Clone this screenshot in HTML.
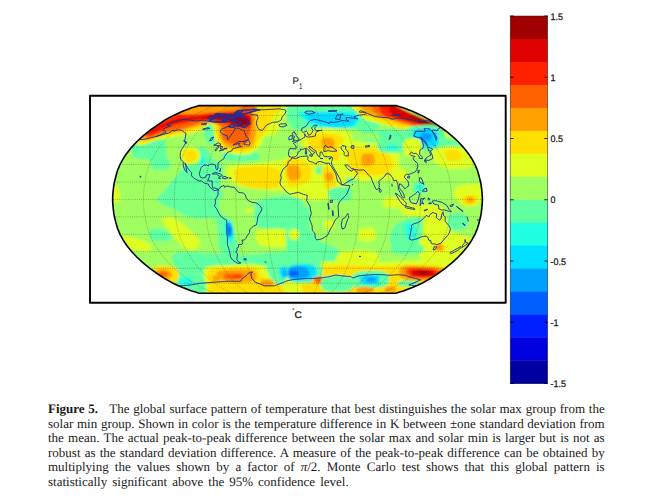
<!DOCTYPE html>
<html><head><meta charset="utf-8"><style>
html,body{margin:0;padding:0;background:#fff;width:657px;height:501px;overflow:hidden;position:relative}
.cap{position:absolute;left:48px;top:402.2px;width:556.7px;font-family:"Liberation Serif",serif;font-size:13px;line-height:14.5px;color:#1a1a1a;text-rendering:geometricPrecision}
.cap p{margin:0}
.j{text-align:justify;text-align-last:justify}
.l{word-spacing:1.8px}
</style></head><body>
<svg width="657" height="395" viewBox="0 0 657 395" style="position:absolute;left:0;top:0;text-rendering:geometricPrecision">
<defs><clipPath id="mc"><path d="M395.9 105.6L399.6 106.7L403.3 107.8L407.8 109.6L412.4 111.3L417.2 113.4L422 115.6L426.2 117.9L430.4 120.3L434.2 122.8L438 125.3L441.6 127.9L445.2 130.5L448.5 133.2L451.9 135.9L454.9 138.7L458 141.5L460.6 144.3L463.2 147.1L465.6 150L467.9 152.9L469.9 155.8L471.8 158.7L473.4 161.6L475 164.5L476.2 167.4L477.4 170.3L478.3 173.2L479.1 176.1L479.8 179L480.6 182L481.1 184.9L481.5 187.8L481.8 190.7L482.1 193.6L482.3 196.5L482.4 199.4L482.3 202.3L482.1 205.2L481.8 208.1L481.5 211L481.1 213.9L480.6 216.8L479.8 219.8L479.1 222.7L478.3 225.6L477.4 228.5L476.2 231.4L475 234.3L473.4 237.2L471.8 240.1L469.9 243L467.9 245.9L465.6 248.8L463.2 251.7L460.6 254.5L458 257.3L454.9 260.1L451.9 262.9L448.5 265.6L445.2 268.3L441.6 270.9L438 273.5L434.2 276L430.4 278.5L426.2 280.9L422 283.2L417.2 285.4L412.4 287.5L407.8 289.2L403.3 291L399.6 292.1L395.9 293.2L199.1 293.2L195.4 292.1L191.7 291L187.2 289.2L182.6 287.5L177.8 285.4L173 283.2L168.8 280.9L164.6 278.5L160.8 276L157 273.5L153.4 270.9L149.8 268.3L146.5 265.6L143.1 262.9L140.1 260.1L137 257.3L134.4 254.5L131.8 251.7L129.4 248.8L127.1 245.9L125.1 243L123.2 240.1L121.6 237.2L120 234.3L118.8 231.4L117.6 228.5L116.7 225.6L115.9 222.7L115.2 219.8L114.4 216.8L113.9 213.9L113.5 211L113.2 208.1L112.9 205.2L112.7 202.3L112.6 199.4L112.7 196.5L112.9 193.6L113.2 190.7L113.5 187.8L113.9 184.9L114.4 182L115.2 179L115.9 176.1L116.7 173.2L117.6 170.3L118.8 167.4L120 164.5L121.6 161.6L123.2 158.7L125.1 155.8L127.1 152.9L129.4 150L131.8 147.1L134.4 144.3L137 141.5L140.1 138.7L143.1 135.9L146.5 133.2L149.8 130.5L153.4 127.9L157 125.3L160.8 122.8L164.6 120.3L168.8 117.9L173 115.6L177.8 113.4L182.6 111.3L187.2 109.6L191.7 107.8L195.4 106.7L199.1 105.6Z"/></clipPath><filter id="soft" x="-5%" y="-5%" width="110%" height="110%"><feGaussianBlur stdDeviation="1"/></filter></defs>
<rect x="90" y="95.8" width="415.7" height="207" fill="none" stroke="#000" stroke-width="1.9" stroke-linejoin="round"/>
<g clip-path="url(#mc)"><g filter="url(#soft)">
<rect x="100" y="100" width="400" height="200" fill="#a0ff60"/>
<path fill="#60ffa0" d="M133.0 141.5C135.7 138.7 144.7 140.0 150.0 140.0C155.3 140.0 162.3 138.8 165.0 141.5C167.7 144.2 165.2 152.8 166.0 156.0C166.8 159.2 169.7 158.8 170.0 161.0C170.3 163.2 170.8 167.7 168.0 169.0C165.2 170.3 156.2 170.5 153.0 169.0C149.8 167.5 152.2 162.0 149.0 160.0C145.8 158.0 136.7 160.1 134.0 157.0C131.3 153.9 130.3 144.3 133.0 141.5Z"/>
<path fill="#60ffa0" d="M183.0 168.0C188.2 161.3 192.2 153.3 196.0 150.0C199.8 146.7 203.0 146.3 206.0 148.0C209.0 149.7 211.3 156.8 214.0 160.0C216.7 163.2 221.0 162.8 222.0 167.0C223.0 171.2 220.7 179.5 220.0 185.0C219.3 190.5 228.0 197.2 218.0 200.0C208.0 202.8 168.8 203.7 160.0 202.0C151.2 200.3 161.2 195.7 165.0 190.0C168.8 184.3 177.8 174.7 183.0 168.0Z"/>
<path fill="#60ffa0" d="M206.0 125.0C207.7 123.3 211.7 123.0 214.0 124.0C216.3 125.0 219.5 127.8 220.0 131.0C220.5 134.2 219.0 141.0 217.0 143.0C215.0 145.0 210.2 144.5 208.0 143.0C205.8 141.5 204.3 137.0 204.0 134.0C203.7 131.0 204.3 126.7 206.0 125.0Z"/>
<path fill="#60ffa0" d="M224.0 152.0C226.5 150.5 234.3 150.8 240.0 151.0C245.7 151.2 255.0 151.5 258.0 153.0C261.0 154.5 261.0 158.7 258.0 160.0C255.0 161.3 245.5 161.0 240.0 161.0C234.5 161.0 227.7 161.5 225.0 160.0C222.3 158.5 221.5 153.5 224.0 152.0Z"/>
<path fill="#20ffdf" d="M200.0 157.0C200.5 155.5 203.2 155.0 204.0 156.0C204.8 157.0 205.5 161.5 205.0 163.0C204.5 164.5 201.8 166.0 201.0 165.0C200.2 164.0 199.5 158.5 200.0 157.0Z"/>
<path fill="#dfff20" d="M134.0 142.0C139.0 150.2 152.3 140.0 160.0 139.0C167.7 138.0 173.7 137.2 180.0 136.0C186.3 134.8 193.7 133.5 198.0 132.0C202.3 130.5 203.7 128.3 206.0 127.0C208.3 125.7 210.3 121.5 212.0 124.0C213.7 126.5 214.3 137.5 216.0 142.0C217.7 146.5 217.2 148.8 222.0 151.0C226.8 153.2 238.8 155.5 245.0 155.0C251.2 154.5 255.8 151.0 259.0 148.0C262.2 145.0 261.2 139.3 264.0 137.0C266.8 134.7 272.8 136.8 276.0 134.0C279.2 131.2 280.3 124.3 283.0 120.0C285.7 115.7 289.2 111.0 292.0 108.0C294.8 105.0 298.7 105.0 300.0 102.0C301.3 99.0 328.3 92.0 300.0 90.0C271.7 88.0 157.7 81.3 130.0 90.0C102.3 98.7 129.0 133.8 134.0 142.0Z"/>
<path fill="#ffdf00" d="M139.0 141.0C144.0 148.7 157.3 137.3 165.0 136.0C172.7 134.7 179.2 134.2 185.0 133.0C190.8 131.8 195.3 131.0 200.0 129.0C204.7 127.0 210.3 119.8 213.0 121.0C215.7 122.2 213.8 131.2 216.0 136.0C218.2 140.8 220.3 147.5 226.0 150.0C231.7 152.5 244.5 152.7 250.0 151.0C255.5 149.3 256.0 143.8 259.0 140.0C262.0 136.2 265.7 131.8 268.0 128.0C270.3 124.2 270.7 120.7 273.0 117.0C275.3 113.3 280.0 110.5 282.0 106.0C284.0 101.5 309.5 92.7 285.0 90.0C260.5 87.3 159.3 81.5 135.0 90.0C110.7 98.5 134.0 133.3 139.0 141.0Z"/>
<path fill="#ffa000" d="M142.0 138.0C146.2 143.7 157.8 135.3 165.0 134.0C172.2 132.7 178.7 131.5 185.0 130.0C191.3 128.5 197.5 126.3 203.0 125.0C208.5 123.7 215.2 120.0 218.0 122.0C220.8 124.0 218.2 132.8 220.0 137.0C221.8 141.2 224.0 145.3 229.0 147.0C234.0 148.7 245.5 149.2 250.0 147.0C254.5 144.8 255.2 138.5 256.0 134.0C256.8 129.5 255.3 124.0 255.0 120.0C254.7 116.0 254.5 113.3 254.0 110.0C253.5 106.7 271.0 101.7 252.0 100.0C233.0 98.3 158.3 93.7 140.0 100.0C121.7 106.3 137.8 132.3 142.0 138.0Z"/>
<path fill="#ff6000" d="M145.0 136.0C149.2 141.3 158.3 133.3 165.0 132.0C171.7 130.7 178.3 129.7 185.0 128.0C191.7 126.3 198.8 122.2 205.0 122.0C211.2 121.8 219.0 124.2 222.0 127.0C225.0 129.8 221.2 136.2 223.0 139.0C224.8 141.8 229.2 143.3 233.0 144.0C236.8 144.7 243.0 145.3 246.0 143.0C249.0 140.7 250.3 134.7 251.0 130.0C251.7 125.3 250.5 119.3 250.0 115.0C249.5 110.7 266.3 106.5 248.0 104.0C229.7 101.5 157.2 94.7 140.0 100.0C122.8 105.3 140.8 130.7 145.0 136.0Z"/>
<path fill="#ffa000" d="M178.0 106.0C184.2 104.3 204.7 104.3 215.0 104.0C225.3 103.7 236.2 103.2 240.0 104.0C243.8 104.8 242.2 107.7 238.0 109.0C233.8 110.3 223.0 111.2 215.0 112.0C207.0 112.8 196.2 113.7 190.0 114.0C183.8 114.3 180.0 115.3 178.0 114.0C176.0 112.7 171.8 107.7 178.0 106.0Z"/>
<path fill="#ff2000" d="M146.0 135.0C145.5 133.8 148.0 129.8 152.0 127.0C156.0 124.2 165.7 120.2 170.0 118.0C174.3 115.8 173.8 114.5 178.0 114.0C182.2 113.5 188.8 115.2 195.0 115.0C201.2 114.8 208.3 113.5 215.0 113.0C221.7 112.5 229.2 111.8 235.0 112.0C240.8 112.2 247.2 112.3 250.0 114.0C252.8 115.7 252.3 119.7 252.0 122.0C251.7 124.3 250.8 127.3 248.0 128.0C245.2 128.7 240.5 127.2 235.0 126.0C229.5 124.8 221.7 121.8 215.0 121.0C208.3 120.2 202.2 120.2 195.0 121.0C187.8 121.8 178.7 123.8 172.0 126.0C165.3 128.2 159.3 132.5 155.0 134.0C150.7 135.5 146.5 136.2 146.0 135.0Z"/>
<path fill="#df0000" d="M146.0 134.0C147.3 133.0 155.2 128.3 160.0 126.0C164.8 123.7 169.2 121.5 175.0 120.0C180.8 118.5 188.3 117.8 195.0 117.0C201.7 116.2 208.3 115.5 215.0 115.0C221.7 114.5 229.2 113.8 235.0 114.0C240.8 114.2 247.5 114.3 250.0 116.0C252.5 117.7 251.7 122.5 250.0 124.0C248.3 125.5 245.0 125.7 240.0 125.0C235.0 124.3 227.5 120.8 220.0 120.0C212.5 119.2 203.0 119.3 195.0 120.0C187.0 120.7 179.2 122.0 172.0 124.0C164.8 126.0 156.3 130.3 152.0 132.0C147.7 133.7 144.7 135.0 146.0 134.0Z"/>
<path fill="#a00000" d="M215.0 116.0C217.3 115.2 226.7 113.7 232.0 114.0C237.3 114.3 244.5 116.2 247.0 118.0C249.5 119.8 248.5 123.7 247.0 125.0C245.5 126.3 241.2 126.7 238.0 126.0C234.8 125.3 231.3 122.2 228.0 121.0C224.7 119.8 220.2 119.8 218.0 119.0C215.8 118.2 212.7 116.8 215.0 116.0Z"/>
<path fill="#dfff20" d="M180.0 152.0C180.7 149.2 186.8 147.2 190.0 147.0C193.2 146.8 197.5 148.7 199.0 151.0C200.5 153.3 201.2 158.8 199.0 161.0C196.8 163.2 189.2 165.5 186.0 164.0C182.8 162.5 179.3 154.8 180.0 152.0Z"/>
<path fill="#ffdf00" d="M183.0 153.0C183.7 150.8 188.7 149.0 191.0 149.0C193.3 149.0 196.2 151.2 197.0 153.0C197.8 154.8 197.7 158.5 196.0 160.0C194.3 161.5 189.2 163.2 187.0 162.0C184.8 160.8 182.3 155.2 183.0 153.0Z"/>
<path fill="#dfff20" d="M228.0 167.0C231.3 164.0 241.0 165.2 250.0 164.0C259.0 162.8 273.7 161.3 282.0 160.0C290.3 158.7 297.0 150.7 300.0 156.0C303.0 161.3 303.3 186.2 300.0 192.0C296.7 197.8 288.3 191.7 280.0 191.0C271.7 190.3 258.3 189.5 250.0 188.0C241.7 186.5 233.7 185.5 230.0 182.0C226.3 178.5 224.7 170.0 228.0 167.0Z"/>
<path fill="#ffdf00" d="M236.0 169.0C239.8 166.5 253.0 166.0 260.0 166.0C267.0 166.0 274.5 166.7 278.0 169.0C281.5 171.3 281.7 176.8 281.0 180.0C280.3 183.2 279.2 186.7 274.0 188.0C268.8 189.3 256.2 189.2 250.0 188.0C243.8 186.8 239.3 184.2 237.0 181.0C234.7 177.8 232.2 171.5 236.0 169.0Z"/>
<path fill="#dfff20" d="M112.0 186.0C113.0 184.0 116.7 186.3 118.0 188.0C119.3 189.7 121.0 194.0 120.0 196.0C119.0 198.0 113.3 201.7 112.0 200.0C110.7 198.3 111.0 188.0 112.0 186.0Z"/>
<path fill="#60ffa0" d="M290.0 104.0C298.3 100.5 326.7 103.0 340.0 104.0C353.3 105.0 363.7 106.5 370.0 110.0C376.3 113.5 377.7 121.0 378.0 125.0C378.3 129.0 376.7 133.5 372.0 134.0C367.3 134.5 357.8 128.7 350.0 128.0C342.2 127.3 333.3 129.7 325.0 130.0C316.7 130.3 305.8 130.8 300.0 130.0C294.2 129.2 291.7 129.3 290.0 125.0C288.3 120.7 281.7 107.5 290.0 104.0Z"/>
<path fill="#60ffa0" d="M360.0 114.0C363.7 111.7 377.0 111.7 380.0 114.0C383.0 116.3 380.3 124.7 378.0 128.0C375.7 131.3 369.3 134.0 366.0 134.0C362.7 134.0 359.0 131.3 358.0 128.0C357.0 124.7 356.3 116.3 360.0 114.0Z"/>
<path fill="#60ffa0" d="M378.0 131.0C379.8 128.0 389.2 130.0 395.0 130.0C400.8 130.0 409.8 128.3 413.0 131.0C416.2 133.7 416.2 142.5 414.0 146.0C411.8 149.5 405.0 151.7 400.0 152.0C395.0 152.3 387.7 151.5 384.0 148.0C380.3 144.5 376.2 134.0 378.0 131.0Z"/>
<path fill="#60ffa0" d="M364.0 140.0C366.0 139.2 374.0 139.2 376.0 140.0C378.0 140.8 378.0 144.2 376.0 145.0C374.0 145.8 366.0 145.8 364.0 145.0C362.0 144.2 362.0 140.8 364.0 140.0Z"/>
<path fill="#60ffa0" d="M340.0 168.0C342.7 165.8 355.0 165.8 358.0 168.0C361.0 170.2 360.7 178.8 358.0 181.0C355.3 183.2 345.0 183.2 342.0 181.0C339.0 178.8 337.3 170.2 340.0 168.0Z"/>
<path fill="#60ffa0" d="M435.0 140.0C439.0 138.8 455.8 139.8 460.0 141.0C464.2 142.2 464.0 145.8 460.0 147.0C456.0 148.2 440.2 149.2 436.0 148.0C431.8 146.8 431.0 141.2 435.0 140.0Z"/>
<path fill="#20ffdf" d="M386.0 145.0C387.8 144.2 395.2 144.2 397.0 145.0C398.8 145.8 398.8 149.2 397.0 150.0C395.2 150.8 387.8 150.8 386.0 150.0C384.2 149.2 384.2 145.8 386.0 145.0Z"/>
<path fill="#20ffdf" d="M300.0 109.0C306.0 107.0 330.0 107.5 340.0 108.0C350.0 108.5 357.3 109.0 360.0 112.0C362.7 115.0 359.3 123.3 356.0 126.0C352.7 128.7 346.0 127.8 340.0 128.0C334.0 128.2 326.0 128.3 320.0 127.0C314.0 125.7 307.3 123.0 304.0 120.0C300.7 117.0 294.0 111.0 300.0 109.0Z"/>
<path fill="#00dfff" d="M306.0 113.0C309.8 111.8 321.8 111.5 330.0 112.0C338.2 112.5 351.3 113.7 355.0 116.0C358.7 118.3 355.3 124.1 352.0 126.0C348.7 127.9 340.7 127.8 335.0 127.5C329.3 127.2 322.7 125.4 318.0 124.0C313.3 122.6 309.0 120.8 307.0 119.0C305.0 117.2 302.2 114.2 306.0 113.0Z"/>
<path fill="#60ffa0" d="M290.0 100.0C301.7 98.2 356.3 98.8 370.0 100.0C383.7 101.2 377.0 105.2 372.0 107.0C367.0 108.8 352.0 110.3 340.0 111.0C328.0 111.7 308.3 112.8 300.0 111.0C291.7 109.2 278.3 101.8 290.0 100.0Z"/>
<path fill="#ffdf00" d="M352.0 104.0C354.7 102.8 369.0 102.7 372.0 104.0C375.0 105.3 372.7 110.8 370.0 112.0C367.3 113.2 359.0 112.3 356.0 111.0C353.0 109.7 349.3 105.2 352.0 104.0Z"/>
<path fill="#dfff20" d="M355.0 104.0C358.8 103.2 374.2 110.3 385.0 113.0C395.8 115.7 410.8 117.8 420.0 120.0C429.2 122.2 434.2 124.0 440.0 126.0C445.8 128.0 454.2 130.2 455.0 132.0C455.8 133.8 450.8 136.8 445.0 137.0C439.2 137.2 429.2 134.8 420.0 133.0C410.8 131.2 399.7 128.5 390.0 126.0C380.3 123.5 367.8 121.7 362.0 118.0C356.2 114.3 351.2 104.8 355.0 104.0Z"/>
<path fill="#ffdf00" d="M358.0 104.0C362.2 104.3 375.0 113.0 385.0 116.0C395.0 119.0 409.2 120.0 418.0 122.0C426.8 124.0 432.7 126.7 438.0 128.0C443.3 129.3 451.3 129.0 450.0 130.0C448.7 131.0 437.5 134.0 430.0 134.0C422.5 134.0 413.3 132.0 405.0 130.0C396.7 128.0 387.5 124.7 380.0 122.0C372.5 119.3 363.7 117.0 360.0 114.0C356.3 111.0 353.8 103.7 358.0 104.0Z"/>
<path fill="#ffa000" d="M362.0 100.0C366.2 99.7 380.3 107.0 390.0 110.0C399.7 113.0 411.7 115.7 420.0 118.0C428.3 120.3 434.7 122.3 440.0 124.0C445.3 125.7 452.0 126.7 452.0 128.0C452.0 129.3 446.2 132.2 440.0 132.0C433.8 131.8 423.7 129.0 415.0 127.0C406.3 125.0 396.3 122.5 388.0 120.0C379.7 117.5 369.3 115.3 365.0 112.0C360.7 108.7 357.8 100.3 362.0 100.0Z"/>
<path fill="#ff6000" d="M372.0 100.0C376.2 100.0 389.2 106.8 398.0 110.0C406.8 113.2 417.7 116.3 425.0 119.0C432.3 121.7 437.8 124.8 442.0 126.0C446.2 127.2 451.0 125.3 450.0 126.0C449.0 126.7 442.3 130.2 436.0 130.0C429.7 129.8 420.0 127.0 412.0 125.0C404.0 123.0 394.5 120.5 388.0 118.0C381.5 115.5 375.7 113.0 373.0 110.0C370.3 107.0 367.8 100.0 372.0 100.0Z"/>
<path fill="#ff2000" d="M380.0 100.0C383.0 99.2 393.3 106.2 400.0 109.0C406.7 111.8 413.7 114.5 420.0 117.0C426.3 119.5 433.7 123.2 438.0 124.0C442.3 124.8 446.0 121.2 446.0 122.0C446.0 122.8 443.0 128.8 438.0 129.0C433.0 129.2 423.0 125.2 416.0 123.5C409.0 121.8 401.7 120.6 396.0 119.0C390.3 117.4 384.7 117.2 382.0 114.0C379.3 110.8 377.0 100.8 380.0 100.0Z"/>
<path fill="#df0000" d="M392.0 104.0C394.5 103.7 400.3 107.8 405.0 110.0C409.7 112.2 414.5 114.7 420.0 117.0C425.5 119.3 433.7 123.2 438.0 124.0C442.3 124.8 446.0 121.2 446.0 122.0C446.0 122.8 443.0 128.7 438.0 129.0C433.0 129.3 422.3 125.8 416.0 124.0C409.7 122.2 404.3 120.0 400.0 118.0C395.7 116.0 391.3 114.3 390.0 112.0C388.7 109.7 389.5 104.3 392.0 104.0Z"/>
<path fill="#a00000" d="M410.0 116.0C410.7 115.3 419.7 117.7 424.0 119.0C428.3 120.3 433.3 123.3 436.0 124.0C438.7 124.7 440.3 122.5 440.0 123.0C439.7 123.5 437.3 127.0 434.0 127.0C430.7 127.0 424.0 124.8 420.0 123.0C416.0 121.2 409.3 116.7 410.0 116.0Z"/>
<path fill="#60ffa0" d="M407.0 128.0C411.8 125.7 431.5 124.0 438.0 126.0C444.5 128.0 445.7 136.0 446.0 140.0C446.3 144.0 444.3 148.3 440.0 150.0C435.7 151.7 425.2 151.7 420.0 150.0C414.8 148.3 411.2 143.7 409.0 140.0C406.8 136.3 402.2 130.3 407.0 128.0Z"/>
<path fill="#00dfff" d="M413.0 131.0C415.3 129.3 424.0 127.8 428.0 128.0C432.0 128.2 435.3 129.3 437.0 132.0C438.7 134.7 439.2 141.5 438.0 144.0C436.8 146.5 433.2 147.0 430.0 147.0C426.8 147.0 421.7 145.5 419.0 144.0C416.3 142.5 415.0 140.2 414.0 138.0C413.0 135.8 410.7 132.7 413.0 131.0Z"/>
<path fill="#00a0ff" d="M421.0 134.0C422.3 133.0 428.2 132.2 430.0 133.0C431.8 133.8 432.5 137.7 432.0 139.0C431.5 140.3 428.7 141.0 427.0 141.0C425.3 141.0 423.0 140.2 422.0 139.0C421.0 137.8 419.7 135.0 421.0 134.0Z"/>
<path fill="#dfff20" d="M302.0 132.0C305.8 129.2 317.0 127.8 325.0 128.0C333.0 128.2 345.5 129.3 350.0 133.0C354.5 136.7 354.5 146.0 352.0 150.0C349.5 154.0 342.0 156.3 335.0 157.0C328.0 157.7 315.5 156.0 310.0 154.0C304.5 152.0 303.3 148.7 302.0 145.0C300.7 141.3 298.2 134.8 302.0 132.0Z"/>
<path fill="#ffdf00" d="M308.0 136.0C310.2 133.2 319.3 132.8 325.0 133.0C330.7 133.2 339.2 134.5 342.0 137.0C344.8 139.5 344.0 145.5 342.0 148.0C340.0 150.5 335.0 151.7 330.0 152.0C325.0 152.3 315.7 152.7 312.0 150.0C308.3 147.3 305.8 138.8 308.0 136.0Z"/>
<path fill="#ffa000" d="M322.0 139.0C323.3 137.5 328.8 137.2 331.0 138.0C333.2 138.8 335.2 142.3 335.0 144.0C334.8 145.7 332.0 147.5 330.0 148.0C328.0 148.5 324.3 148.5 323.0 147.0C321.7 145.5 320.7 140.5 322.0 139.0Z"/>
<path fill="#dfff20" d="M340.0 145.0C343.8 140.3 355.8 141.5 365.0 142.0C374.2 142.5 389.3 143.3 395.0 148.0C400.7 152.7 400.7 164.7 399.0 170.0C397.3 175.3 392.3 178.3 385.0 180.0C377.7 181.7 362.2 181.7 355.0 180.0C347.8 178.3 344.5 175.8 342.0 170.0C339.5 164.2 336.2 149.7 340.0 145.0Z"/>
<path fill="#ffdf00" d="M347.0 150.0C349.8 147.7 358.2 147.5 365.0 148.0C371.8 148.5 383.3 149.7 388.0 153.0C392.7 156.3 394.3 164.3 393.0 168.0C391.7 171.7 386.3 174.0 380.0 175.0C373.7 176.0 360.3 176.2 355.0 174.0C349.7 171.8 349.3 166.0 348.0 162.0C346.7 158.0 344.2 152.3 347.0 150.0Z"/>
<path fill="#ffa000" d="M362.0 155.0C363.7 153.3 369.8 152.8 372.0 154.0C374.2 155.2 375.7 160.0 375.0 162.0C374.3 164.0 370.2 165.7 368.0 166.0C365.8 166.3 363.0 165.8 362.0 164.0C361.0 162.2 360.3 156.7 362.0 155.0Z"/>
<path fill="#ffdf00" d="M389.0 167.0C390.3 165.8 395.7 165.8 397.0 167.0C398.3 168.2 398.3 172.8 397.0 174.0C395.7 175.2 390.3 175.2 389.0 174.0C387.7 172.8 387.7 168.2 389.0 167.0Z"/>
<path fill="#60ffa0" d="M379.0 143.0C383.5 141.5 401.8 140.7 407.0 142.0C412.2 143.3 412.5 149.2 410.0 151.0C407.5 152.8 397.0 153.0 392.0 153.0C387.0 153.0 382.2 152.7 380.0 151.0C377.8 149.3 374.5 144.5 379.0 143.0Z"/>
<path fill="#20ffdf" d="M387.0 145.5C388.7 144.8 395.3 144.8 397.0 145.5C398.7 146.2 398.7 148.8 397.0 149.5C395.3 150.2 388.7 150.2 387.0 149.5C385.3 148.8 385.3 146.2 387.0 145.5Z"/>
<path fill="#dfff20" d="M288.0 157.0C292.5 152.2 303.3 155.5 312.0 156.0C320.7 156.5 334.3 156.8 340.0 160.0C345.7 163.2 345.5 169.2 346.0 175.0C346.5 180.8 347.3 190.8 343.0 195.0C338.7 199.2 328.0 199.7 320.0 200.0C312.0 200.3 300.8 199.5 295.0 197.0C289.2 194.5 286.2 191.7 285.0 185.0C283.8 178.3 283.5 161.8 288.0 157.0Z"/>
<path fill="#ffdf00" d="M286.0 160.0C288.0 155.7 296.0 159.2 300.0 160.0C304.0 160.8 308.2 162.0 310.0 165.0C311.8 168.0 312.2 174.8 311.0 178.0C309.8 181.2 306.8 182.7 303.0 184.0C299.2 185.3 290.8 190.0 288.0 186.0C285.2 182.0 284.0 164.3 286.0 160.0Z"/>
<path fill="#ffa000" d="M287.0 167.0C288.3 164.7 295.8 164.2 298.0 166.0C300.2 167.8 301.3 175.7 300.0 178.0C298.7 180.3 292.2 181.8 290.0 180.0C287.8 178.2 285.7 169.3 287.0 167.0Z"/>
<path fill="#60ffa0" d="M316.6 167.0C318.0 165.9 323.6 165.9 325.0 167.0C326.4 168.1 326.4 172.3 325.0 173.4C323.6 174.5 318.0 174.5 316.6 173.4C315.2 172.3 315.2 168.1 316.6 167.0Z"/>
<path fill="#ffdf00" d="M322.0 168.0C323.2 165.8 327.8 165.7 330.0 167.0C332.2 168.3 334.2 172.3 335.0 176.0C335.8 179.7 336.2 186.8 334.7 189.0C333.2 191.2 327.9 190.5 326.0 189.0C324.1 187.5 323.7 183.5 323.0 180.0C322.3 176.5 320.8 170.2 322.0 168.0Z"/>
<path fill="#ffa000" d="M326.0 173.4C327.1 172.3 331.5 172.3 332.6 173.4C333.7 174.5 333.7 178.9 332.6 180.0C331.5 181.1 327.1 181.1 326.0 180.0C324.9 178.9 324.9 174.5 326.0 173.4Z"/>
<path fill="#60ffa0" d="M330.0 189.0C333.3 187.0 346.7 186.2 350.0 188.0C353.3 189.8 353.3 198.0 350.0 200.0C346.7 202.0 333.3 201.8 330.0 200.0C326.7 198.2 326.7 191.0 330.0 189.0Z"/>
<path fill="#ffdf00" d="M332.0 151.0C333.2 149.5 337.8 149.5 339.0 151.0C340.2 152.5 340.2 158.5 339.0 160.0C337.8 161.5 333.2 161.5 332.0 160.0C330.8 158.5 330.8 152.5 332.0 151.0Z"/>
<path fill="#dfff20" d="M405.0 140.0C407.5 137.5 417.5 137.5 420.0 140.0C422.5 142.5 422.5 152.5 420.0 155.0C417.5 157.5 407.5 157.5 405.0 155.0C402.5 152.5 402.5 142.5 405.0 140.0Z"/>
<path fill="#dfff20" d="M433.0 150.0C436.3 147.3 448.3 145.7 455.0 146.0C461.7 146.3 470.2 148.7 473.0 152.0C475.8 155.3 475.8 163.2 472.0 166.0C468.2 168.8 456.2 169.7 450.0 169.0C443.8 168.3 437.8 165.2 435.0 162.0C432.2 158.8 429.7 152.7 433.0 150.0Z"/>
<path fill="#ffdf00" d="M445.0 151.0C446.5 149.3 453.2 149.5 456.0 150.0C458.8 150.5 461.3 152.3 462.0 154.0C462.7 155.7 462.5 159.0 460.0 160.0C457.5 161.0 449.5 161.5 447.0 160.0C444.5 158.5 443.5 152.7 445.0 151.0Z"/>
<path fill="#dfff20" d="M457.0 187.0C461.2 184.5 477.3 182.8 482.0 185.0C486.7 187.2 489.2 197.5 485.0 200.0C480.8 202.5 461.7 202.2 457.0 200.0C452.3 197.8 452.8 189.5 457.0 187.0Z"/>
<path fill="#60ffa0" d="M414.0 183.0C415.8 181.3 423.2 181.3 425.0 183.0C426.8 184.7 426.8 191.3 425.0 193.0C423.2 194.7 415.8 194.7 414.0 193.0C412.2 191.3 412.2 184.7 414.0 183.0Z"/>
<path fill="#20ffdf" d="M417.0 185.5C417.8 184.7 421.2 184.7 422.0 185.5C422.8 186.3 422.8 189.7 422.0 190.5C421.2 191.3 417.8 191.3 417.0 190.5C416.2 189.7 416.2 186.3 417.0 185.5Z"/>
<path fill="#dfff20" d="M392.0 168.0C394.3 166.0 403.7 167.8 406.0 170.0C408.3 172.2 408.3 179.0 406.0 181.0C403.7 183.0 394.3 184.2 392.0 182.0C389.7 179.8 389.7 170.0 392.0 168.0Z"/>
<path fill="#dfff20" d="M405.0 205.0C410.8 203.5 434.2 204.3 440.0 206.0C445.8 207.7 445.8 213.5 440.0 215.0C434.2 216.5 410.8 216.7 405.0 215.0C399.2 213.3 399.2 206.5 405.0 205.0Z"/>
<path fill="#60ffa0" d="M162.0 195.0C153.7 196.5 160.0 201.7 162.0 204.0C164.0 206.3 170.0 207.0 174.0 209.0C178.0 211.0 181.7 214.3 186.0 216.0C190.3 217.7 196.0 218.7 200.0 219.0C204.0 219.3 206.7 218.0 210.0 218.0C213.3 218.0 218.7 222.0 220.0 219.0C221.3 216.0 219.3 204.0 218.0 200.0C216.7 196.0 221.3 195.8 212.0 195.0C202.7 194.2 170.3 193.5 162.0 195.0Z"/>
<path fill="#60ffa0" d="M150.0 230.0C151.7 228.2 158.5 228.2 162.0 229.0C165.5 229.8 170.0 233.0 171.0 235.0C172.0 237.0 171.2 240.2 168.0 241.0C164.8 241.8 155.0 241.8 152.0 240.0C149.0 238.2 148.3 231.8 150.0 230.0Z"/>
<path fill="#60ffa0" d="M174.0 254.0C179.7 251.2 199.0 252.8 210.0 253.0C221.0 253.2 225.0 255.2 240.0 255.0C255.0 254.8 290.0 250.2 300.0 252.0C310.0 253.8 310.0 263.7 300.0 266.0C290.0 268.3 253.3 265.7 240.0 266.0C226.7 266.3 225.7 267.3 220.0 268.0C214.3 268.7 208.7 265.3 206.0 270.0C203.3 274.7 208.7 291.7 204.0 296.0C199.3 300.3 182.7 300.3 178.0 296.0C173.3 291.7 176.7 277.0 176.0 270.0C175.3 263.0 168.3 256.8 174.0 254.0Z"/>
<path fill="#20ffdf" d="M180.0 279.0C181.7 277.8 189.0 277.0 191.0 278.0C193.0 279.0 193.7 283.8 192.0 285.0C190.3 286.2 183.0 286.0 181.0 285.0C179.0 284.0 178.3 280.2 180.0 279.0Z"/>
<path fill="#60ffa0" d="M217.0 219.0C218.3 215.8 223.2 213.8 226.0 216.0C228.8 218.2 232.0 225.5 234.0 232.0C236.0 238.5 238.7 250.5 238.0 255.0C237.3 259.5 233.0 259.8 230.0 259.0C227.0 258.2 222.0 254.0 220.0 250.0C218.0 246.0 218.5 240.2 218.0 235.0C217.5 229.8 215.7 222.2 217.0 219.0Z"/>
<path fill="#60ffa0" d="M258.0 201.0C265.0 196.5 293.0 194.5 300.0 199.0C307.0 203.5 303.3 223.0 300.0 228.0C296.7 233.0 287.0 229.3 280.0 229.0C273.0 228.7 261.7 230.7 258.0 226.0C254.3 221.3 251.0 205.5 258.0 201.0Z"/>
<path fill="#dfff20" d="M163.0 218.0C164.7 217.0 169.7 216.2 175.0 219.0C180.3 221.8 190.8 230.7 195.0 235.0C199.2 239.3 201.0 242.5 200.0 245.0C199.0 247.5 192.7 250.7 189.0 250.0C185.3 249.3 182.0 245.2 178.0 241.0C174.0 236.8 167.5 228.8 165.0 225.0C162.5 221.2 161.3 219.0 163.0 218.0Z"/>
<path fill="#dfff20" d="M112.0 236.0C115.8 234.3 128.7 236.5 135.0 238.0C141.3 239.5 147.7 242.8 150.0 245.0C152.3 247.2 152.3 250.2 149.0 251.0C145.7 251.8 136.2 250.5 130.0 250.0C123.8 249.5 115.0 250.3 112.0 248.0C109.0 245.7 108.2 237.7 112.0 236.0Z"/>
<path fill="#dfff20" d="M113.0 193.0C114.0 191.8 117.8 192.7 119.0 194.0C120.2 195.3 121.0 199.8 120.0 201.0C119.0 202.2 114.2 202.3 113.0 201.0C111.8 199.7 112.0 194.2 113.0 193.0Z"/>
<path fill="#dfff20" d="M258.0 231.0C261.8 228.5 275.5 228.7 282.0 229.0C288.5 229.3 294.7 230.3 297.0 233.0C299.3 235.7 299.7 242.7 296.0 245.0C292.3 247.3 281.2 247.2 275.0 247.0C268.8 246.8 261.8 246.7 259.0 244.0C256.2 241.3 254.2 233.5 258.0 231.0Z"/>
<path fill="#dfff20" d="M246.0 209.0C247.2 208.5 251.8 208.5 253.0 209.0C254.2 209.5 254.2 211.5 253.0 212.0C251.8 212.5 247.2 212.5 246.0 212.0C244.8 211.5 244.8 209.5 246.0 209.0Z"/>
<path fill="#20ffdf" d="M225.0 222.0C226.0 220.2 229.5 219.5 231.0 221.0C232.5 222.5 233.7 227.7 234.0 231.0C234.3 234.3 234.0 239.2 233.0 241.0C232.0 242.8 229.3 243.5 228.0 242.0C226.7 240.5 225.5 235.3 225.0 232.0C224.5 228.7 224.0 223.8 225.0 222.0Z"/>
<path fill="#00a0ff" d="M226.5 224.0C227.0 221.9 229.5 222.3 230.5 223.5C231.5 224.7 232.4 228.8 232.5 231.0C232.6 233.2 231.8 236.2 231.0 237.0C230.2 237.8 228.2 238.2 227.5 236.0C226.8 233.8 226.0 226.1 226.5 224.0Z"/>
<path fill="#0060ff" d="M227.8 227.5C228.2 226.6 229.7 226.2 230.2 227.0C230.7 227.8 231.2 231.2 231.0 232.5C230.8 233.8 229.5 235.0 229.0 235.0C228.5 235.0 228.0 233.8 227.8 232.5C227.6 231.2 227.4 228.4 227.8 227.5Z"/>
<path fill="#ffdf00" d="M153.0 268.0C155.7 266.3 161.8 265.7 166.0 266.0C170.2 266.3 176.3 267.3 178.0 270.0C179.7 272.7 179.0 279.8 176.0 282.0C173.0 284.2 164.3 284.0 160.0 283.0C155.7 282.0 151.2 278.5 150.0 276.0C148.8 273.5 150.3 269.7 153.0 268.0Z"/>
<path fill="#ffa000" d="M156.0 271.0C157.3 269.4 163.3 269.0 166.0 269.5C168.7 270.0 171.5 272.4 172.0 274.0C172.5 275.6 171.3 278.2 169.0 279.0C166.7 279.8 160.2 280.3 158.0 279.0C155.8 277.7 154.7 272.6 156.0 271.0Z"/>
<path fill="#ff6000" d="M159.0 272.5C159.8 271.8 163.5 271.7 165.0 272.0C166.5 272.3 168.0 273.8 168.0 274.5C168.0 275.2 166.3 276.2 165.0 276.5C163.7 276.8 161.0 277.2 160.0 276.5C159.0 275.8 158.2 273.2 159.0 272.5Z"/>
<path fill="#dfff20" d="M205.0 268.0C209.0 264.7 220.8 265.5 230.0 265.0C239.2 264.5 251.7 263.8 260.0 265.0C268.3 266.2 273.3 270.0 280.0 272.0C286.7 274.0 295.0 272.3 300.0 277.0C305.0 281.7 316.7 295.8 310.0 300.0C303.3 304.2 276.3 302.0 260.0 302.0C243.7 302.0 221.0 302.8 212.0 300.0C203.0 297.2 207.2 290.3 206.0 285.0C204.8 279.7 201.0 271.3 205.0 268.0Z"/>
<path fill="#ffdf00" d="M209.0 270.0C212.8 266.8 223.8 267.3 232.0 267.0C240.2 266.7 253.0 266.3 258.0 268.0C263.0 269.7 258.3 275.0 262.0 277.0C265.7 279.0 273.7 279.0 280.0 280.0C286.3 281.0 295.0 279.7 300.0 283.0C305.0 286.3 316.7 296.8 310.0 300.0C303.3 303.2 276.0 302.0 260.0 302.0C244.0 302.0 222.5 302.7 214.0 300.0C205.5 297.3 209.8 291.0 209.0 286.0C208.2 281.0 205.2 273.2 209.0 270.0Z"/>
<path fill="#ffa000" d="M217.0 272.0C219.3 269.9 233.7 269.5 240.0 269.5C246.3 269.5 252.8 270.1 255.0 272.0C257.2 273.9 257.8 279.3 253.0 281.0C248.2 282.7 232.0 283.5 226.0 282.0C220.0 280.5 214.7 274.1 217.0 272.0Z"/>
<path fill="#ff6000" d="M224.0 274.5C225.8 273.6 234.7 273.4 238.0 273.5C241.3 273.6 243.5 274.2 244.0 275.0C244.5 275.8 243.8 277.8 241.0 278.5C238.2 279.2 229.8 279.7 227.0 279.0C224.2 278.3 222.2 275.4 224.0 274.5Z"/>
<path fill="#ff2000" d="M233.0 276.0C234.0 275.6 238.6 275.3 240.0 275.5C241.4 275.7 242.5 276.9 241.5 277.3C240.5 277.7 235.4 278.2 234.0 278.0C232.6 277.8 232.0 276.4 233.0 276.0Z"/>
<path fill="#ffa000" d="M262.0 280.0C263.7 279.0 270.3 279.0 272.0 280.0C273.7 281.0 273.7 285.0 272.0 286.0C270.3 287.0 263.7 287.0 262.0 286.0C260.3 285.0 260.3 281.0 262.0 280.0Z"/>
<path fill="#ffa000" d="M213.0 276.0C214.0 275.2 218.0 275.2 219.0 276.0C220.0 276.8 220.0 280.2 219.0 281.0C218.0 281.8 214.0 281.8 213.0 281.0C212.0 280.2 212.0 276.8 213.0 276.0Z"/>
<path fill="#60ffa0" d="M270.0 263.0C275.3 261.0 295.0 257.5 300.0 261.0C305.0 264.5 303.7 280.2 300.0 284.0C296.3 287.8 283.3 285.8 278.0 284.0C272.7 282.2 269.3 276.5 268.0 273.0C266.7 269.5 264.7 265.0 270.0 263.0Z"/>
<path fill="#00dfff" d="M280.0 268.0C282.7 265.7 296.7 264.2 300.0 266.0C303.3 267.8 302.7 276.7 300.0 279.0C297.3 281.3 287.3 281.8 284.0 280.0C280.7 278.2 277.3 270.3 280.0 268.0Z"/>
<path fill="#00a0ff" d="M284.0 270.0C286.3 268.8 297.3 268.2 300.0 269.5C302.7 270.8 302.3 276.2 300.0 277.5C297.7 278.8 288.7 278.2 286.0 277.0C283.3 275.8 281.7 271.2 284.0 270.0Z"/>
<path fill="#0060ff" d="M289.0 271.5C290.7 270.7 298.2 270.2 300.0 271.0C301.8 271.8 301.7 275.2 300.0 276.0C298.3 276.8 291.8 276.8 290.0 276.0C288.2 275.2 287.3 272.3 289.0 271.5Z"/>
<path fill="#60ffa0" d="M290.0 204.0C292.5 195.3 301.7 204.7 305.0 206.0C308.3 207.3 309.2 208.3 310.0 212.0C310.8 215.7 308.3 223.2 310.0 228.0C311.7 232.8 316.7 238.2 320.0 241.0C323.3 243.8 327.0 243.5 330.0 245.0C333.0 246.5 337.2 247.8 338.0 250.0C338.8 252.2 343.0 256.7 335.0 258.0C327.0 259.3 297.5 267.0 290.0 258.0C282.5 249.0 287.5 212.7 290.0 204.0Z"/>
<path fill="#60ffa0" d="M290.0 254.0C300.2 251.8 340.8 251.8 351.0 254.0C361.2 256.2 361.2 264.8 351.0 267.0C340.8 269.2 300.2 269.2 290.0 267.0C279.8 264.8 279.8 256.2 290.0 254.0Z"/>
<path fill="#dfff20" d="M325.0 221.0C326.5 219.8 332.5 219.8 334.0 221.0C335.5 222.2 335.5 226.8 334.0 228.0C332.5 229.2 326.5 229.2 325.0 228.0C323.5 226.8 323.5 222.2 325.0 221.0Z"/>
<path fill="#dfff20" d="M360.0 229.0C362.3 227.2 371.7 227.2 374.0 229.0C376.3 230.8 376.3 238.2 374.0 240.0C371.7 241.8 362.3 241.8 360.0 240.0C357.7 238.2 357.7 230.8 360.0 229.0Z"/>
<path fill="#dfff20" d="M290.0 230.0C291.3 228.5 296.7 228.5 298.0 230.0C299.3 231.5 299.3 237.5 298.0 239.0C296.7 240.5 291.3 240.5 290.0 239.0C288.7 237.5 288.7 231.5 290.0 230.0Z"/>
<path fill="#dfff20" d="M310.0 195.0C313.0 194.5 325.0 194.5 328.0 195.0C331.0 195.5 331.0 197.5 328.0 198.0C325.0 198.5 313.0 198.5 310.0 198.0C307.0 197.5 307.0 195.5 310.0 195.0Z"/>
<path fill="#60ffa0" d="M392.0 230.0C393.7 227.0 395.3 224.0 400.0 222.0C404.7 220.0 416.3 216.3 420.0 218.0C423.7 219.7 422.0 227.5 422.0 232.0C422.0 236.5 422.0 241.3 420.0 245.0C418.0 248.7 414.2 252.8 410.0 254.0C405.8 255.2 398.3 254.3 395.0 252.0C391.7 249.7 390.5 243.7 390.0 240.0C389.5 236.3 390.3 233.0 392.0 230.0Z"/>
<path fill="#20ffdf" d="M406.0 224.0C407.3 221.8 413.5 222.5 415.0 225.0C416.5 227.5 416.3 236.8 415.0 239.0C413.7 241.2 408.5 240.5 407.0 238.0C405.5 235.5 404.7 226.2 406.0 224.0Z"/>
<path fill="#dfff20" d="M426.0 216.0C429.8 212.3 445.2 213.8 449.0 218.0C452.8 222.2 452.8 237.3 449.0 241.0C445.2 244.7 429.8 244.2 426.0 240.0C422.2 235.8 422.2 219.7 426.0 216.0Z"/>
<path fill="#dfff20" d="M423.0 235.0C427.5 230.5 441.2 232.0 450.0 233.0C458.8 234.0 471.7 236.5 476.0 241.0C480.3 245.5 484.8 256.8 476.0 260.0C467.2 263.2 431.8 264.2 423.0 260.0C414.2 255.8 418.5 239.5 423.0 235.0Z"/>
<path fill="#60ffa0" d="M449.0 215.0C451.7 212.8 463.2 212.8 466.0 215.0C468.8 217.2 468.7 225.8 466.0 228.0C463.3 230.2 452.8 230.2 450.0 228.0C447.2 225.8 446.3 217.2 449.0 215.0Z"/>
<path fill="#ffdf00" d="M435.0 244.0C436.5 242.8 442.5 242.8 444.0 244.0C445.5 245.2 445.5 249.8 444.0 251.0C442.5 252.2 436.5 252.2 435.0 251.0C433.5 249.8 433.5 245.2 435.0 244.0Z"/>
<path fill="#ffa000" d="M437.0 245.0C438.0 244.2 442.0 244.2 443.0 245.0C444.0 245.8 444.0 249.2 443.0 250.0C442.0 250.8 438.0 250.8 437.0 250.0C436.0 249.2 436.0 245.8 437.0 245.0Z"/>
<path fill="#dfff20" d="M385.0 198.0C388.3 196.5 401.7 196.5 405.0 198.0C408.3 199.5 408.3 205.5 405.0 207.0C401.7 208.5 388.3 208.5 385.0 207.0C381.7 205.5 381.7 199.5 385.0 198.0Z"/>
<path fill="#dfff20" d="M406.0 206.0C411.2 204.5 431.8 204.5 437.0 206.0C442.2 207.5 442.2 213.5 437.0 215.0C431.8 216.5 411.2 216.5 406.0 215.0C400.8 213.5 400.8 207.5 406.0 206.0Z"/>
<path fill="#dfff20" d="M462.0 195.0C464.5 193.3 474.5 193.3 477.0 195.0C479.5 196.7 479.5 203.3 477.0 205.0C474.5 206.7 464.5 206.7 462.0 205.0C459.5 203.3 459.5 196.7 462.0 195.0Z"/>
<path fill="#ffdf00" d="M464.0 196.0C466.0 194.7 474.0 194.7 476.0 196.0C478.0 197.3 478.0 202.7 476.0 204.0C474.0 205.3 466.0 205.3 464.0 204.0C462.0 202.7 462.0 197.3 464.0 196.0Z"/>
<path fill="#ffa000" d="M467.5 197.5C468.4 196.8 472.1 196.8 473.0 197.5C473.9 198.2 473.9 201.2 473.0 202.0C472.1 202.8 468.4 202.8 467.5 202.0C466.6 201.2 466.6 198.2 467.5 197.5Z"/>
<path fill="#dfff20" d="M340.0 253.0C345.8 249.8 369.2 249.0 375.0 252.0C380.8 255.0 380.8 267.8 375.0 271.0C369.2 274.2 345.8 274.0 340.0 271.0C334.2 268.0 334.2 256.2 340.0 253.0Z"/>
<path fill="#dfff20" d="M300.0 265.0C314.2 258.7 360.0 263.2 385.0 262.0C410.0 260.8 435.8 258.3 450.0 258.0C464.2 257.7 466.7 253.0 470.0 260.0C473.3 267.0 498.3 293.3 470.0 300.0C441.7 306.7 328.3 305.8 300.0 300.0C271.7 294.2 285.8 271.3 300.0 265.0Z"/>
<path fill="#ffdf00" d="M316.0 268.0C328.3 262.3 369.3 266.3 390.0 266.0C410.7 265.7 426.7 265.3 440.0 266.0C453.3 266.7 465.0 264.3 470.0 270.0C475.0 275.7 495.7 295.0 470.0 300.0C444.3 305.0 341.7 305.3 316.0 300.0C290.3 294.7 303.7 273.7 316.0 268.0Z"/>
<path fill="#60ffa0" d="M290.0 262.0C294.7 258.5 313.0 257.0 318.0 260.0C323.0 263.0 324.7 276.5 320.0 280.0C315.3 283.5 295.0 284.0 290.0 281.0C285.0 278.0 285.3 265.5 290.0 262.0Z"/>
<path fill="#00dfff" d="M290.0 266.0C293.8 263.7 308.8 263.4 313.0 265.5C317.2 267.6 318.8 276.2 315.0 278.5C311.2 280.8 294.2 281.6 290.0 279.5C285.8 277.4 286.2 268.3 290.0 266.0Z"/>
<path fill="#00a0ff" d="M290.0 268.0C292.7 266.4 303.0 266.5 306.0 268.0C309.0 269.5 310.7 275.4 308.0 277.0C305.3 278.6 293.0 279.0 290.0 277.5C287.0 276.0 287.3 269.6 290.0 268.0Z"/>
<path fill="#0060ff" d="M290.0 271.0C291.2 270.2 295.7 270.2 297.0 271.0C298.3 271.8 299.2 274.7 298.0 275.5C296.8 276.3 291.3 276.8 290.0 276.0C288.7 275.2 288.8 271.8 290.0 271.0Z"/>
<path fill="#ffa000" d="M314.0 277.0C315.5 275.9 321.5 275.9 323.0 277.0C324.5 278.1 324.5 282.4 323.0 283.5C321.5 284.6 315.5 284.6 314.0 283.5C312.5 282.4 312.5 278.1 314.0 277.0Z"/>
<path fill="#ff6000" d="M316.0 278.0C316.8 277.2 320.2 277.2 321.0 278.0C321.8 278.8 321.8 281.8 321.0 282.5C320.2 283.2 316.8 283.2 316.0 282.5C315.2 281.8 315.2 278.8 316.0 278.0Z"/>
<path fill="#60ffa0" d="M355.0 273.0C360.0 270.5 379.8 269.8 385.0 272.0C390.2 274.2 391.0 283.5 386.0 286.0C381.0 288.5 360.2 289.2 355.0 287.0C349.8 284.8 350.0 275.5 355.0 273.0Z"/>
<path fill="#00dfff" d="M362.0 276.0C365.0 274.8 377.0 274.8 380.0 276.0C383.0 277.2 383.0 282.2 380.0 283.5C377.0 284.8 365.0 284.8 362.0 283.5C359.0 282.2 359.0 277.2 362.0 276.0Z"/>
<path fill="#00a0ff" d="M367.0 277.5C368.3 276.8 373.7 276.8 375.0 277.5C376.3 278.2 376.3 280.8 375.0 281.5C373.7 282.2 368.3 282.2 367.0 281.5C365.7 280.8 365.7 278.2 367.0 277.5Z"/>
<path fill="#60ffa0" d="M324.0 277.5C328.2 275.2 344.5 274.4 349.0 276.5C353.5 278.6 355.2 287.7 351.0 290.0C346.8 292.3 328.5 292.6 324.0 290.5C319.5 288.4 319.8 279.8 324.0 277.5Z"/>
<path fill="#ffa000" d="M358.0 287.5C360.3 286.6 369.7 286.6 372.0 287.5C374.3 288.4 374.3 292.1 372.0 293.0C369.7 293.9 360.3 293.9 358.0 293.0C355.7 292.1 355.7 288.4 358.0 287.5Z"/>
<path fill="#ffa000" d="M401.0 267.0C403.8 264.8 415.2 265.8 422.0 266.0C428.8 266.2 439.3 266.2 442.0 268.5C444.7 270.8 444.2 277.7 438.0 279.5C431.8 281.3 411.2 281.6 405.0 279.5C398.8 277.4 398.2 269.2 401.0 267.0Z"/>
<path fill="#ff6000" d="M406.0 268.5C408.0 266.9 416.5 267.8 422.0 268.0C427.5 268.2 436.8 268.4 439.0 270.0C441.2 271.6 439.8 276.2 435.0 277.5C430.2 278.8 414.8 279.0 410.0 277.5C405.2 276.0 404.0 270.1 406.0 268.5Z"/>
<path fill="#ff2000" d="M409.0 269.5C411.2 268.2 421.3 268.8 426.0 269.0C430.7 269.2 435.8 269.8 437.0 271.0C438.2 272.2 437.0 275.6 433.0 276.5C429.0 277.4 417.0 277.7 413.0 276.5C409.0 275.3 406.8 270.8 409.0 269.5Z"/>
<path fill="#df0000" d="M413.0 270.5C415.2 269.5 424.5 269.8 428.0 270.0C431.5 270.2 433.5 271.0 434.0 272.0C434.5 273.0 434.2 275.3 431.0 276.0C427.8 276.7 418.0 276.9 415.0 276.0C412.0 275.1 410.8 271.5 413.0 270.5Z"/>
<path fill="#a00000" d="M419.0 271.5C420.5 271.0 427.0 271.2 429.0 271.5C431.0 271.8 431.2 272.5 431.0 273.0C430.8 273.5 429.8 274.2 428.0 274.5C426.2 274.8 421.5 275.0 420.0 274.5C418.5 274.0 417.5 272.0 419.0 271.5Z"/>
<path fill="#60ffa0" d="M394.0 245.0C398.5 243.7 416.5 243.7 421.0 245.0C425.5 246.3 425.5 251.7 421.0 253.0C416.5 254.3 398.5 254.3 394.0 253.0C389.5 251.7 389.5 246.3 394.0 245.0Z"/>
<path fill="#60ffa0" d="M380.0 274.0C380.8 272.2 384.2 272.2 385.0 274.0C385.8 275.8 385.8 283.2 385.0 285.0C384.2 286.8 380.8 286.8 380.0 285.0C379.2 283.2 379.2 275.8 380.0 274.0Z"/>
<path fill="#60ffa0" d="M400.0 281.0C402.8 280.2 414.2 280.2 417.0 281.0C419.8 281.8 419.8 285.2 417.0 286.0C414.2 286.8 402.8 286.8 400.0 286.0C397.2 285.2 397.2 281.8 400.0 281.0Z"/>
<path fill="#ffa000" d="M386.0 287.0C387.5 286.2 393.5 286.2 395.0 287.0C396.5 287.8 396.5 291.2 395.0 292.0C393.5 292.8 387.5 292.8 386.0 292.0C384.5 291.2 384.5 287.8 386.0 287.0Z"/>
</g><g>
<path d="M173 283.2L176.5 283.2L179.9 283.2L183.4 283.2L186.9 283.2L190.3 283.2L193.8 283.2L197.2 283.2L200.7 283.2L204.1 283.2L207.6 283.2L211.1 283.2L214.5 283.2L218 283.2L221.4 283.2L224.9 283.2L228.3 283.2L231.8 283.2L235.3 283.2L238.7 283.2L242.2 283.2L245.6 283.2L249.1 283.2L252.6 283.2L256 283.2L259.5 283.2L262.9 283.2L266.4 283.2L269.8 283.2L273.3 283.2L276.8 283.2L280.2 283.2L283.7 283.2L287.1 283.2L290.6 283.2L294 283.2L297.5 283.2L301 283.2L304.4 283.2L307.9 283.2L311.3 283.2L314.8 283.2L318.2 283.2L321.7 283.2L325.2 283.2L328.6 283.2L332.1 283.2L335.5 283.2L339 283.2L342.4 283.2L345.9 283.2L349.4 283.2L352.8 283.2L356.3 283.2L359.7 283.2L363.2 283.2L366.7 283.2L370.1 283.2L373.6 283.2L377 283.2L380.5 283.2L383.9 283.2L387.4 283.2L390.9 283.2L394.3 283.2L397.8 283.2L401.2 283.2L404.7 283.2L408.1 283.2L411.6 283.2L415.1 283.2L418.5 283.2L422 283.2M149.8 268.3L153.9 268.3L158 268.3L162.1 268.3L166.2 268.3L170.3 268.3L174.4 268.3L178.6 268.3L182.7 268.3L186.8 268.3L190.9 268.3L195 268.3L199.1 268.3L203.2 268.3L207.3 268.3L211.4 268.3L215.5 268.3L219.6 268.3L223.7 268.3L227.8 268.3L231.9 268.3L236 268.3L240.1 268.3L244.2 268.3L248.3 268.3L252.4 268.3L256.5 268.3L260.6 268.3L264.7 268.3L268.8 268.3L272.9 268.3L277 268.3L281.1 268.3L285.2 268.3L289.3 268.3L293.4 268.3L297.5 268.3L301.6 268.3L305.7 268.3L309.8 268.3L313.9 268.3L318 268.3L322.1 268.3L326.2 268.3L330.3 268.3L334.4 268.3L338.5 268.3L342.6 268.3L346.7 268.3L350.8 268.3L354.9 268.3L359 268.3L363.1 268.3L367.2 268.3L371.3 268.3L375.4 268.3L379.5 268.3L383.6 268.3L387.7 268.3L391.8 268.3L395.9 268.3L400 268.3L404.1 268.3L408.2 268.3L412.3 268.3L416.4 268.3L420.6 268.3L424.7 268.3L428.8 268.3L432.9 268.3L437 268.3L441.1 268.3L445.2 268.3M131.8 251.7L136.4 251.7L141 251.7L145.6 251.7L150.2 251.7L154.8 251.7L159.4 251.7L164 251.7L168.6 251.7L173.2 251.7L177.8 251.7L182.4 251.7L187 251.7L191.6 251.7L196.2 251.7L200.8 251.7L205.4 251.7L210 251.7L214.6 251.7L219.2 251.7L223.9 251.7L228.5 251.7L233.1 251.7L237.7 251.7L242.3 251.7L246.9 251.7L251.5 251.7L256.1 251.7L260.7 251.7L265.3 251.7L269.9 251.7L274.5 251.7L279.1 251.7L283.7 251.7L288.3 251.7L292.9 251.7L297.5 251.7L302.1 251.7L306.7 251.7L311.3 251.7L315.9 251.7L320.5 251.7L325.1 251.7L329.7 251.7L334.3 251.7L338.9 251.7L343.5 251.7L348.1 251.7L352.7 251.7L357.3 251.7L361.9 251.7L366.5 251.7L371.1 251.7L375.8 251.7L380.4 251.7L385 251.7L389.6 251.7L394.2 251.7L398.8 251.7L403.4 251.7L408 251.7L412.6 251.7L417.2 251.7L421.8 251.7L426.4 251.7L431 251.7L435.6 251.7L440.2 251.7L444.8 251.7L449.4 251.7L454 251.7L458.6 251.7L463.2 251.7M120 234.3L124.9 234.3L129.9 234.3L134.8 234.3L139.7 234.3L144.6 234.3L149.6 234.3L154.5 234.3L159.4 234.3L164.4 234.3L169.3 234.3L174.2 234.3L179.2 234.3L184.1 234.3L189 234.3L194 234.3L198.9 234.3L203.8 234.3L208.7 234.3L213.7 234.3L218.6 234.3L223.5 234.3L228.5 234.3L233.4 234.3L238.3 234.3L243.3 234.3L248.2 234.3L253.1 234.3L258.1 234.3L263 234.3L267.9 234.3L272.8 234.3L277.8 234.3L282.7 234.3L287.6 234.3L292.6 234.3L297.5 234.3L302.4 234.3L307.4 234.3L312.3 234.3L317.2 234.3L322.2 234.3L327.1 234.3L332 234.3L336.9 234.3L341.9 234.3L346.8 234.3L351.7 234.3L356.7 234.3L361.6 234.3L366.5 234.3L371.5 234.3L376.4 234.3L381.3 234.3L386.3 234.3L391.2 234.3L396.1 234.3L401 234.3L406 234.3L410.9 234.3L415.8 234.3L420.8 234.3L425.7 234.3L430.6 234.3L435.6 234.3L440.5 234.3L445.4 234.3L450.4 234.3L455.3 234.3L460.2 234.3L465.1 234.3L470.1 234.3L475 234.3M114.4 216.8L119.5 216.8L124.6 216.8L129.7 216.8L134.8 216.8L139.9 216.8L145 216.8L150 216.8L155.1 216.8L160.2 216.8L165.3 216.8L170.4 216.8L175.5 216.8L180.6 216.8L185.6 216.8L190.7 216.8L195.8 216.8L200.9 216.8L206 216.8L211.1 216.8L216.1 216.8L221.2 216.8L226.3 216.8L231.4 216.8L236.5 216.8L241.6 216.8L246.7 216.8L251.7 216.8L256.8 216.8L261.9 216.8L267 216.8L272.1 216.8L277.2 216.8L282.2 216.8L287.3 216.8L292.4 216.8L297.5 216.8L302.6 216.8L307.7 216.8L312.8 216.8L317.8 216.8L322.9 216.8L328 216.8L333.1 216.8L338.2 216.8L343.3 216.8L348.3 216.8L353.4 216.8L358.5 216.8L363.6 216.8L368.7 216.8L373.8 216.8L378.9 216.8L383.9 216.8L389 216.8L394.1 216.8L399.2 216.8L404.3 216.8L409.4 216.8L414.4 216.8L419.5 216.8L424.6 216.8L429.7 216.8L434.8 216.8L439.9 216.8L445 216.8L450 216.8L455.1 216.8L460.2 216.8L465.3 216.8L470.4 216.8L475.5 216.8L480.6 216.8M112.6 199.4L117.7 199.4L122.9 199.4L128 199.4L133.1 199.4L138.3 199.4L143.4 199.4L148.6 199.4L153.7 199.4L158.8 199.4L164 199.4L169.1 199.4L174.2 199.4L179.4 199.4L184.5 199.4L189.6 199.4L194.8 199.4L199.9 199.4L205.1 199.4L210.2 199.4L215.3 199.4L220.5 199.4L225.6 199.4L230.7 199.4L235.9 199.4L241 199.4L246.1 199.4L251.3 199.4L256.4 199.4L261.5 199.4L266.7 199.4L271.8 199.4L277 199.4L282.1 199.4L287.2 199.4L292.4 199.4L297.5 199.4L302.6 199.4L307.8 199.4L312.9 199.4L318 199.4L323.2 199.4L328.3 199.4L333.5 199.4L338.6 199.4L343.7 199.4L348.9 199.4L354 199.4L359.1 199.4L364.3 199.4L369.4 199.4L374.5 199.4L379.7 199.4L384.8 199.4L389.9 199.4L395.1 199.4L400.2 199.4L405.4 199.4L410.5 199.4L415.6 199.4L420.8 199.4L425.9 199.4L431 199.4L436.2 199.4L441.3 199.4L446.4 199.4L451.6 199.4L456.7 199.4L461.9 199.4L467 199.4L472.1 199.4L477.3 199.4L482.4 199.4M114.4 182L119.5 182L124.6 182L129.7 182L134.8 182L139.9 182L145 182L150 182L155.1 182L160.2 182L165.3 182L170.4 182L175.5 182L180.6 182L185.6 182L190.7 182L195.8 182L200.9 182L206 182L211.1 182L216.1 182L221.2 182L226.3 182L231.4 182L236.5 182L241.6 182L246.7 182L251.7 182L256.8 182L261.9 182L267 182L272.1 182L277.2 182L282.2 182L287.3 182L292.4 182L297.5 182L302.6 182L307.7 182L312.8 182L317.8 182L322.9 182L328 182L333.1 182L338.2 182L343.3 182L348.3 182L353.4 182L358.5 182L363.6 182L368.7 182L373.8 182L378.9 182L383.9 182L389 182L394.1 182L399.2 182L404.3 182L409.4 182L414.4 182L419.5 182L424.6 182L429.7 182L434.8 182L439.9 182L445 182L450 182L455.1 182L460.2 182L465.3 182L470.4 182L475.5 182L480.6 182M120 164.5L124.9 164.5L129.9 164.5L134.8 164.5L139.7 164.5L144.6 164.5L149.6 164.5L154.5 164.5L159.4 164.5L164.4 164.5L169.3 164.5L174.2 164.5L179.2 164.5L184.1 164.5L189 164.5L194 164.5L198.9 164.5L203.8 164.5L208.7 164.5L213.7 164.5L218.6 164.5L223.5 164.5L228.5 164.5L233.4 164.5L238.3 164.5L243.3 164.5L248.2 164.5L253.1 164.5L258.1 164.5L263 164.5L267.9 164.5L272.8 164.5L277.8 164.5L282.7 164.5L287.6 164.5L292.6 164.5L297.5 164.5L302.4 164.5L307.4 164.5L312.3 164.5L317.2 164.5L322.2 164.5L327.1 164.5L332 164.5L336.9 164.5L341.9 164.5L346.8 164.5L351.7 164.5L356.7 164.5L361.6 164.5L366.5 164.5L371.5 164.5L376.4 164.5L381.3 164.5L386.3 164.5L391.2 164.5L396.1 164.5L401 164.5L406 164.5L410.9 164.5L415.8 164.5L420.8 164.5L425.7 164.5L430.6 164.5L435.6 164.5L440.5 164.5L445.4 164.5L450.4 164.5L455.3 164.5L460.2 164.5L465.1 164.5L470.1 164.5L475 164.5M131.8 147.1L136.4 147.1L141 147.1L145.6 147.1L150.2 147.1L154.8 147.1L159.4 147.1L164 147.1L168.6 147.1L173.2 147.1L177.8 147.1L182.4 147.1L187 147.1L191.6 147.1L196.2 147.1L200.8 147.1L205.4 147.1L210 147.1L214.6 147.1L219.2 147.1L223.9 147.1L228.5 147.1L233.1 147.1L237.7 147.1L242.3 147.1L246.9 147.1L251.5 147.1L256.1 147.1L260.7 147.1L265.3 147.1L269.9 147.1L274.5 147.1L279.1 147.1L283.7 147.1L288.3 147.1L292.9 147.1L297.5 147.1L302.1 147.1L306.7 147.1L311.3 147.1L315.9 147.1L320.5 147.1L325.1 147.1L329.7 147.1L334.3 147.1L338.9 147.1L343.5 147.1L348.1 147.1L352.7 147.1L357.3 147.1L361.9 147.1L366.5 147.1L371.1 147.1L375.8 147.1L380.4 147.1L385 147.1L389.6 147.1L394.2 147.1L398.8 147.1L403.4 147.1L408 147.1L412.6 147.1L417.2 147.1L421.8 147.1L426.4 147.1L431 147.1L435.6 147.1L440.2 147.1L444.8 147.1L449.4 147.1L454 147.1L458.6 147.1L463.2 147.1M149.8 130.5L153.9 130.5L158 130.5L162.1 130.5L166.2 130.5L170.3 130.5L174.4 130.5L178.6 130.5L182.7 130.5L186.8 130.5L190.9 130.5L195 130.5L199.1 130.5L203.2 130.5L207.3 130.5L211.4 130.5L215.5 130.5L219.6 130.5L223.7 130.5L227.8 130.5L231.9 130.5L236 130.5L240.1 130.5L244.2 130.5L248.3 130.5L252.4 130.5L256.5 130.5L260.6 130.5L264.7 130.5L268.8 130.5L272.9 130.5L277 130.5L281.1 130.5L285.2 130.5L289.3 130.5L293.4 130.5L297.5 130.5L301.6 130.5L305.7 130.5L309.8 130.5L313.9 130.5L318 130.5L322.1 130.5L326.2 130.5L330.3 130.5L334.4 130.5L338.5 130.5L342.6 130.5L346.7 130.5L350.8 130.5L354.9 130.5L359 130.5L363.1 130.5L367.2 130.5L371.3 130.5L375.4 130.5L379.5 130.5L383.6 130.5L387.7 130.5L391.8 130.5L395.9 130.5L400 130.5L404.1 130.5L408.2 130.5L412.3 130.5L416.4 130.5L420.6 130.5L424.7 130.5L428.8 130.5L432.9 130.5L437 130.5L441.1 130.5L445.2 130.5M173 115.6L176.5 115.6L179.9 115.6L183.4 115.6L186.9 115.6L190.3 115.6L193.8 115.6L197.2 115.6L200.7 115.6L204.1 115.6L207.6 115.6L211.1 115.6L214.5 115.6L218 115.6L221.4 115.6L224.9 115.6L228.3 115.6L231.8 115.6L235.3 115.6L238.7 115.6L242.2 115.6L245.6 115.6L249.1 115.6L252.6 115.6L256 115.6L259.5 115.6L262.9 115.6L266.4 115.6L269.8 115.6L273.3 115.6L276.8 115.6L280.2 115.6L283.7 115.6L287.1 115.6L290.6 115.6L294 115.6L297.5 115.6L301 115.6L304.4 115.6L307.9 115.6L311.3 115.6L314.8 115.6L318.2 115.6L321.7 115.6L325.2 115.6L328.6 115.6L332.1 115.6L335.5 115.6L339 115.6L342.4 115.6L345.9 115.6L349.4 115.6L352.8 115.6L356.3 115.6L359.7 115.6L363.2 115.6L366.7 115.6L370.1 115.6L373.6 115.6L377 115.6L380.5 115.6L383.9 115.6L387.4 115.6L390.9 115.6L394.3 115.6L397.8 115.6L401.2 115.6L404.7 115.6L408.1 115.6L411.6 115.6L415.1 115.6L418.5 115.6L422 115.6M215.5 293.2L212.4 292.1L209.3 291L205.6 289.2L201.8 287.5L197.8 285.4L193.8 283.2L190.3 280.9L186.8 278.5L183.6 276L180.4 273.5L177.4 270.9L174.4 268.3L171.6 265.6L168.8 262.9L166.3 260.1L163.8 257.3L161.6 254.5L159.4 251.7L157.5 248.8L155.5 245.9L153.9 243L152.2 240.1L150.9 237.2L149.6 234.3L148.6 231.4L147.6 228.5L146.9 225.6L146.2 222.7L145.6 219.8L145 216.8L144.5 213.9L144.1 211L143.9 208.1L143.6 205.2L143.5 202.3L143.4 199.4L143.5 196.5L143.6 193.6L143.9 190.7L144.1 187.8L144.5 184.9L145 182L145.6 179L146.2 176.1L146.9 173.2L147.6 170.3L148.6 167.4L149.6 164.5L150.9 161.6L152.2 158.7L153.9 155.8L155.5 152.9L157.5 150L159.4 147.1L161.6 144.3L163.8 141.5L166.3 138.7L168.8 135.9L171.6 133.2L174.4 130.5L177.4 127.9L180.4 125.3L183.6 122.8L186.8 120.3L190.3 117.9L193.8 115.6L197.8 113.4L201.8 111.3L205.6 109.6L209.3 107.8L212.4 106.7L215.5 105.6M231.9 293.2L229.4 292.1L227 291L223.9 289.2L220.9 287.5L217.7 285.4L214.5 283.2L211.7 280.9L208.9 278.5L206.4 276L203.9 273.5L201.5 270.9L199.1 268.3L196.8 265.6L194.6 262.9L192.5 260.1L190.5 257.3L188.8 254.5L187 251.7L185.5 248.8L183.9 245.9L182.6 243L181.3 240.1L180.2 237.2L179.2 234.3L178.4 231.4L177.6 228.5L177 225.6L176.4 222.7L175.9 219.8L175.5 216.8L175.1 213.9L174.8 211L174.6 208.1L174.4 205.2L174.3 202.3L174.2 199.4L174.3 196.5L174.4 193.6L174.6 190.7L174.8 187.8L175.1 184.9L175.5 182L175.9 179L176.4 176.1L177 173.2L177.6 170.3L178.4 167.4L179.2 164.5L180.2 161.6L181.3 158.7L182.6 155.8L183.9 152.9L185.5 150L187 147.1L188.8 144.3L190.5 141.5L192.5 138.7L194.6 135.9L196.8 133.2L199.1 130.5L201.5 127.9L203.9 125.3L206.4 122.8L208.9 120.3L211.7 117.9L214.5 115.6L217.7 113.4L220.9 111.3L223.9 109.6L227 107.8L229.4 106.7L231.9 105.6M248.3 293.2L246.4 292.1L244.6 291L242.3 289.2L240.1 287.5L237.7 285.4L235.3 283.2L233.2 280.9L231.1 278.5L229.2 276L227.3 273.5L225.5 270.9L223.7 268.3L222 265.6L220.3 262.9L218.8 260.1L217.3 257.3L216 254.5L214.6 251.7L213.5 248.8L212.3 245.9L211.3 243L210.3 240.1L209.5 237.2L208.7 234.3L208.1 231.4L207.5 228.5L207.1 225.6L206.7 222.7L206.3 219.8L206 216.8L205.7 213.9L205.5 211L205.3 208.1L205.2 205.2L205.1 202.3L205.1 199.4L205.1 196.5L205.2 193.6L205.3 190.7L205.5 187.8L205.7 184.9L206 182L206.3 179L206.7 176.1L207.1 173.2L207.5 170.3L208.1 167.4L208.7 164.5L209.5 161.6L210.3 158.7L211.3 155.8L212.3 152.9L213.5 150L214.6 147.1L216 144.3L217.3 141.5L218.8 138.7L220.3 135.9L222 133.2L223.7 130.5L225.5 127.9L227.3 125.3L229.2 122.8L231.1 120.3L233.2 117.9L235.3 115.6L237.7 113.4L240.1 111.3L242.3 109.6L244.6 107.8L246.4 106.7L248.3 105.6M264.7 293.2L263.5 292.1L262.2 291L260.7 289.2L259.2 287.5L257.6 285.4L256 283.2L254.6 280.9L253.2 278.5L251.9 276L250.7 273.5L249.5 270.9L248.3 268.3L247.2 265.6L246 262.9L245 260.1L244 257.3L243.1 254.5L242.3 251.7L241.5 248.8L240.7 245.9L240 243L239.4 240.1L238.9 237.2L238.3 234.3L237.9 231.4L237.5 228.5L237.2 225.6L237 222.7L236.7 219.8L236.5 216.8L236.3 213.9L236.2 211L236.1 208.1L236 205.2L235.9 202.3L235.9 199.4L235.9 196.5L236 193.6L236.1 190.7L236.2 187.8L236.3 184.9L236.5 182L236.7 179L237 176.1L237.2 173.2L237.5 170.3L237.9 167.4L238.3 164.5L238.9 161.6L239.4 158.7L240 155.8L240.7 152.9L241.5 150L242.3 147.1L243.1 144.3L244 141.5L245 138.7L246 135.9L247.2 133.2L248.3 130.5L249.5 127.9L250.7 125.3L251.9 122.8L253.2 120.3L254.6 117.9L256 115.6L257.6 113.4L259.2 111.3L260.7 109.6L262.2 107.8L263.5 106.7L264.7 105.6M281.1 293.2L280.5 292.1L279.9 291L279.1 289.2L278.4 287.5L277.6 285.4L276.8 283.2L276.1 280.9L275.4 278.5L274.7 276L274.1 273.5L273.5 270.9L272.9 268.3L272.3 265.6L271.8 262.9L271.3 260.1L270.8 257.3L270.3 254.5L269.9 251.7L269.5 248.8L269.1 245.9L268.8 243L268.4 240.1L268.2 237.2L267.9 234.3L267.7 231.4L267.5 228.5L267.4 225.6L267.2 222.7L267.1 219.8L267 216.8L266.9 213.9L266.8 211L266.8 208.1L266.7 205.2L266.7 202.3L266.7 199.4L266.7 196.5L266.7 193.6L266.8 190.7L266.8 187.8L266.9 184.9L267 182L267.1 179L267.2 176.1L267.4 173.2L267.5 170.3L267.7 167.4L267.9 164.5L268.2 161.6L268.4 158.7L268.8 155.8L269.1 152.9L269.5 150L269.9 147.1L270.3 144.3L270.8 141.5L271.3 138.7L271.8 135.9L272.3 133.2L272.9 130.5L273.5 127.9L274.1 125.3L274.7 122.8L275.4 120.3L276.1 117.9L276.8 115.6L277.6 113.4L278.4 111.3L279.1 109.6L279.9 107.8L280.5 106.7L281.1 105.6M297.5 293.2L297.5 292.1L297.5 291L297.5 289.2L297.5 287.5L297.5 285.4L297.5 283.2L297.5 280.9L297.5 278.5L297.5 276L297.5 273.5L297.5 270.9L297.5 268.3L297.5 265.6L297.5 262.9L297.5 260.1L297.5 257.3L297.5 254.5L297.5 251.7L297.5 248.8L297.5 245.9L297.5 243L297.5 240.1L297.5 237.2L297.5 234.3L297.5 231.4L297.5 228.5L297.5 225.6L297.5 222.7L297.5 219.8L297.5 216.8L297.5 213.9L297.5 211L297.5 208.1L297.5 205.2L297.5 202.3L297.5 199.4L297.5 196.5L297.5 193.6L297.5 190.7L297.5 187.8L297.5 184.9L297.5 182L297.5 179L297.5 176.1L297.5 173.2L297.5 170.3L297.5 167.4L297.5 164.5L297.5 161.6L297.5 158.7L297.5 155.8L297.5 152.9L297.5 150L297.5 147.1L297.5 144.3L297.5 141.5L297.5 138.7L297.5 135.9L297.5 133.2L297.5 130.5L297.5 127.9L297.5 125.3L297.5 122.8L297.5 120.3L297.5 117.9L297.5 115.6L297.5 113.4L297.5 111.3L297.5 109.6L297.5 107.8L297.5 106.7L297.5 105.6M313.9 293.2L314.5 292.1L315.1 291L315.9 289.2L316.6 287.5L317.4 285.4L318.2 283.2L318.9 280.9L319.6 278.5L320.3 276L320.9 273.5L321.5 270.9L322.1 268.3L322.7 265.6L323.2 262.9L323.7 260.1L324.2 257.3L324.7 254.5L325.1 251.7L325.5 248.8L325.9 245.9L326.2 243L326.6 240.1L326.8 237.2L327.1 234.3L327.3 231.4L327.5 228.5L327.6 225.6L327.8 222.7L327.9 219.8L328 216.8L328.1 213.9L328.2 211L328.2 208.1L328.3 205.2L328.3 202.3L328.3 199.4L328.3 196.5L328.3 193.6L328.2 190.7L328.2 187.8L328.1 184.9L328 182L327.9 179L327.8 176.1L327.6 173.2L327.5 170.3L327.3 167.4L327.1 164.5L326.8 161.6L326.6 158.7L326.2 155.8L325.9 152.9L325.5 150L325.1 147.1L324.7 144.3L324.2 141.5L323.7 138.7L323.2 135.9L322.7 133.2L322.1 130.5L321.5 127.9L320.9 125.3L320.3 122.8L319.6 120.3L318.9 117.9L318.2 115.6L317.4 113.4L316.6 111.3L315.9 109.6L315.1 107.8L314.5 106.7L313.9 105.6M330.3 293.2L331.5 292.1L332.8 291L334.3 289.2L335.8 287.5L337.4 285.4L339 283.2L340.4 280.9L341.8 278.5L343.1 276L344.3 273.5L345.5 270.9L346.7 268.3L347.8 265.6L349 262.9L350 260.1L351 257.3L351.9 254.5L352.7 251.7L353.5 248.8L354.3 245.9L355 243L355.6 240.1L356.1 237.2L356.7 234.3L357.1 231.4L357.5 228.5L357.8 225.6L358 222.7L358.3 219.8L358.5 216.8L358.7 213.9L358.8 211L358.9 208.1L359 205.2L359.1 202.3L359.1 199.4L359.1 196.5L359 193.6L358.9 190.7L358.8 187.8L358.7 184.9L358.5 182L358.3 179L358 176.1L357.8 173.2L357.5 170.3L357.1 167.4L356.7 164.5L356.1 161.6L355.6 158.7L355 155.8L354.3 152.9L353.5 150L352.7 147.1L351.9 144.3L351 141.5L350 138.7L349 135.9L347.8 133.2L346.7 130.5L345.5 127.9L344.3 125.3L343.1 122.8L341.8 120.3L340.4 117.9L339 115.6L337.4 113.4L335.8 111.3L334.3 109.6L332.8 107.8L331.5 106.7L330.3 105.6M346.7 293.2L348.6 292.1L350.4 291L352.7 289.2L354.9 287.5L357.3 285.4L359.7 283.2L361.8 280.9L363.9 278.5L365.8 276L367.7 273.5L369.5 270.9L371.3 268.3L373 265.6L374.7 262.9L376.2 260.1L377.7 257.3L379 254.5L380.4 251.7L381.5 248.8L382.7 245.9L383.7 243L384.7 240.1L385.5 237.2L386.3 234.3L386.9 231.4L387.5 228.5L387.9 225.6L388.3 222.7L388.7 219.8L389 216.8L389.3 213.9L389.5 211L389.7 208.1L389.8 205.2L389.9 202.3L389.9 199.4L389.9 196.5L389.8 193.6L389.7 190.7L389.5 187.8L389.3 184.9L389 182L388.7 179L388.3 176.1L387.9 173.2L387.5 170.3L386.9 167.4L386.3 164.5L385.5 161.6L384.7 158.7L383.7 155.8L382.7 152.9L381.5 150L380.4 147.1L379 144.3L377.7 141.5L376.2 138.7L374.7 135.9L373 133.2L371.3 130.5L369.5 127.9L367.7 125.3L365.8 122.8L363.9 120.3L361.8 117.9L359.7 115.6L357.3 113.4L354.9 111.3L352.7 109.6L350.4 107.8L348.6 106.7L346.7 105.6M363.1 293.2L365.6 292.1L368 291L371.1 289.2L374.1 287.5L377.3 285.4L380.5 283.2L383.3 280.9L386.1 278.5L388.6 276L391.1 273.5L393.5 270.9L395.9 268.3L398.2 265.6L400.4 262.9L402.5 260.1L404.5 257.3L406.2 254.5L408 251.7L409.5 248.8L411.1 245.9L412.4 243L413.7 240.1L414.8 237.2L415.8 234.3L416.6 231.4L417.4 228.5L418 225.6L418.6 222.7L419.1 219.8L419.5 216.8L419.9 213.9L420.2 211L420.4 208.1L420.6 205.2L420.7 202.3L420.8 199.4L420.7 196.5L420.6 193.6L420.4 190.7L420.2 187.8L419.9 184.9L419.5 182L419.1 179L418.6 176.1L418 173.2L417.4 170.3L416.6 167.4L415.8 164.5L414.8 161.6L413.7 158.7L412.4 155.8L411.1 152.9L409.5 150L408 147.1L406.2 144.3L404.5 141.5L402.5 138.7L400.4 135.9L398.2 133.2L395.9 130.5L393.5 127.9L391.1 125.3L388.6 122.8L386.1 120.3L383.3 117.9L380.5 115.6L377.3 113.4L374.1 111.3L371.1 109.6L368 107.8L365.6 106.7L363.1 105.6M379.5 293.2L382.6 292.1L385.7 291L389.4 289.2L393.2 287.5L397.2 285.4L401.2 283.2L404.7 280.9L408.2 278.5L411.4 276L414.6 273.5L417.6 270.9L420.6 268.3L423.4 265.6L426.2 262.9L428.7 260.1L431.2 257.3L433.4 254.5L435.6 251.7L437.5 248.8L439.5 245.9L441.1 243L442.8 240.1L444.1 237.2L445.4 234.3L446.4 231.4L447.4 228.5L448.1 225.6L448.8 222.7L449.4 219.8L450 216.8L450.5 213.9L450.9 211L451.1 208.1L451.4 205.2L451.5 202.3L451.6 199.4L451.5 196.5L451.4 193.6L451.1 190.7L450.9 187.8L450.5 184.9L450 182L449.4 179L448.8 176.1L448.1 173.2L447.4 170.3L446.4 167.4L445.4 164.5L444.1 161.6L442.8 158.7L441.1 155.8L439.5 152.9L437.5 150L435.6 147.1L433.4 144.3L431.2 141.5L428.7 138.7L426.2 135.9L423.4 133.2L420.6 130.5L417.6 127.9L414.6 125.3L411.4 122.8L408.2 120.3L404.7 117.9L401.2 115.6L397.2 113.4L393.2 111.3L389.4 109.6L385.7 107.8L382.6 106.7L379.5 105.6" fill="none" stroke="#2a2a20" stroke-width="0.8" stroke-dasharray="1 1.2" opacity="0.42"/>
<path d="M250.2 123.3L247.5 125.4L244.8 127.7L243.2 127.1L241.7 126.6L240.1 126L238.1 126.1L236.1 126.1L238.7 124.4L241.3 122.8L239.7 122.1L238.2 121.4L236.7 120.7L235.2 120.1L233.7 119.5L232.3 118.9L235.4 117L237.3 116.9L239.3 116.9L241.2 116.8L242.5 117.4L243.8 118.1L245.1 118.7L246.5 119.3L247.6 120.6L248.9 121.9L250.2 123.3ZM209.4 121.3L211.4 121.4L213.3 121.6L215.3 121.8L217.3 121.9L219.2 122.1L221.2 122.3L223.2 120L225.3 117.9L223.6 117.8L221.9 117.6L220.2 117.5L218.5 117.3L216.9 117.2L214.7 117.8L212.6 118.4L209.4 121.3ZM243.5 114.3L241.5 114.2L239.6 114.1L237.7 114L235.7 113.9L233.8 113.9L236.8 112.1L239.7 110.6L241.7 110.4L243.6 110.3L245.5 110.1L247.4 109.9L249.3 109.7L251.2 109.6L253.1 109.4L254.9 109.2L256.5 109.4L258.2 109.7L259.8 109.9L257.5 110.4L255.2 110.8L252.8 111.3L250.6 112L248.2 112.8L245.9 113.5L243.5 114.3ZM207.4 118.5L209.3 118.7L211.2 118.9L213.2 119.2L213.8 117.7L214.4 116.2L212.5 116.1L210.5 116.1L207.4 118.5ZM241.9 116L239.8 115.9L237.8 115.9L235.7 115.8L233.7 115.8L233.3 114.3L235.1 114.3L236.8 114.3L238.6 114.3L240.3 114.3L242.1 114.3L241.9 116ZM224.9 115.6L223.2 115.5L221.5 115.4L219.9 115.3L218.2 115.2L216.5 115.2L218.8 114.5L221.1 113.9L222.6 114L224.2 114.1L225.7 114.2L227.2 114.3L224.9 115.6ZM224.4 118.9L226.2 118.9L228 118.9L230 116.7L228.1 116.8L226.2 117L224.4 118.9ZM228.9 117.9L231 117.9L233.2 117.9L234.4 116.5L232.7 116.5L230.9 116.5L228.9 117.9ZM234.8 113L236.8 113L238.8 113L240.8 113L242.9 110.6L241 110.7L239.2 110.8L237.3 110.9L234.8 113ZM214.4 114.7L215.9 114.8L217.4 114.8L219 114.9L219.5 113.6L217.6 113.7L215.7 113.9L214.4 114.7ZM228.2 115.2L229.5 115.2L230.7 115.3L231.3 114.3L229.3 114.3L228.2 115.2ZM223.2 121.8L224.7 121.8L226.2 121.8L226.5 120.5L224 120.8L223.2 121.8ZM228.6 126.8L230.3 127L232 127.2L233.8 127.4L235.1 125.3L233.1 124.8L231.1 124.3L228.6 126.8Z" fill="#2818a0" fill-opacity="0.2" stroke="#2a20b0" stroke-width="1.15" stroke-linejoin="round"/>
<path d="M173.3 121.5L175.7 120.8L178.2 120.1L181.1 119.6L183.9 119.1L185.1 119.3L186.3 119.6L187.5 119.8L189.3 120.1L191.2 120.3L193.1 120.6L195.1 120.8L197.1 121L199.1 120.7L201.2 120.4L203.3 120.1L204.9 120.4L206.5 120.7L208.2 121L209.6 121.3L211 121.6L212.5 122L214.5 121.9L216.6 121.8L218.7 121.8L220.2 122L221.8 122.2L223.3 122.5L226.2 121.8L228.2 121.6L230.2 121.5L232.4 121L234.6 120.5L235.6 122.3L233.5 123L231.5 123.8L229.3 125.8L226.6 127L223.9 128.2L221.1 129.4L220.2 132.1L221.6 133.2L223 134.3L225.1 135.1L227.2 135.9L227.5 137.9L227.9 139.8L229.4 137.6L230.9 135.4L232.6 132.9L234.3 130.5L234.9 128.1L236.9 128.2L238.8 128.4L240.6 129.4L242.4 130L244.2 130.5L245.2 133.7L246 135.9L247.3 137.3L248.5 138.7L248.1 139.8L246.1 140.6L244 141.5L241.3 141.5L238.7 141.5L235.8 143.3L232.9 145.1L235.2 144.5L237.6 143.8L239.9 143.2L238.4 144.9L240 145.7L241.5 146.6L239 147.1L236.6 147.7L234.5 148.3L232.5 148.9L231.9 150.8L229.8 151.6L227.6 152.3L226.1 154.3L224.6 156.4L223.9 158.7L221 160.7L218.1 162.8L218 165.4L218 168L217.1 170.1L215.9 168.6L215.5 165.1L212.8 164.2L209.8 164.3L208.5 165.7L206.6 165.3L204.7 164.9L201.2 167.4L200.5 169.4L199.9 171.5L199.4 174.4L200.5 177.3L202.4 178.1L205.5 177.5L206.4 175L208.2 174.7L210 174.4L209 177.9L207.6 180.8L209.9 180.9L212.2 181L212.2 183.2L212.3 185.4L212.6 187.8L214.4 188.1L216.2 188.4L218.2 189.5L218.4 190.2L216.1 190.1L215 190.9L212.6 189.5L209.9 187.2L208.3 184L206.3 183.6L204.3 183.1L201.5 180.8L199 181L197.1 180L195.2 179L193.2 177.3L191.2 175.6L191.7 172.6L190.2 171.2L188.7 169.7L187.5 167.7L186.3 165.7L185 162.8L185.8 165.7L186.2 168L186.6 170.3L187.1 172.6L185.5 170.9L184.4 168.9L183.5 166.8L183.2 164.2L183.2 161.6L181.9 160.4L180.6 159.3L180.2 155.8L180.4 152.3L181.6 149.4L183 147.4L184.4 145.4L185.3 143.4L187.1 142.6L185.9 141.8L184.7 140.9L185.1 138.7L185.6 136.5L185.9 133.2L184.7 132.7L183.6 132.1L182.4 130.7L180.5 130.2L178.7 129.7L176.3 130.3L173.9 131L173.4 130L168.3 133.2L166 133.7L163.8 134.3L160 135.4L156.3 136.5L161.2 134.3L166.1 132.1L165.2 131.4L164.4 130.7L162.8 130L165.4 127.9L168.3 126.8L171.2 125.8L169.6 125.8L168.1 125.8L167.2 124.7L170.3 123.1L173.3 121.5ZM218.2 189.5L219.8 188.4L220.4 187L222.2 186.2L224 185.4L224.4 187.2L227.1 186L229.6 186.6L232.1 187.2L234.1 187.2L236.1 189.5L238.6 192.4L240.9 192.7L243.2 193L245.2 194.7L246.2 197.7L248.2 200.6L250 201.4L251.8 202.3L254.1 202.6L256.4 202.9L259.5 205.2L261.7 208.1L261.7 209.9L259.7 213.4L257.8 216.8L257.5 220.3L256.9 222.7L256.3 225L253.4 226.2L251.5 227.9L249.7 229.6L249.5 232.5L247.4 235.5L245.9 238.4L244.2 240.1L241.8 240.1L242.8 242.4L242.2 244.2L240.4 244.5L238.5 244.7L238.7 247.1L236.6 248.2L237.4 249.4L236 252.2L237.5 253.9L237.3 255.9L237.1 257.9L236.9 259.6L238.3 261.8L240.9 262.9L239.3 263.2L237.7 263.4L235.3 261.8L232.8 260.1L230.6 257.3L230.2 255.1L229.8 252.8L229.2 250.5L228.7 248.2L227.9 245.9L227.3 243.6L227.4 241.3L227.5 238.9L227.3 236.6L227 234.3L226.9 230.8L226.9 227.3L226.8 223.8L226.7 220.3L223.9 218.6L221.2 216.8L218.9 213.4L217.7 211L216.6 208.7L214.5 206.4L215.4 202.9L215.3 199.4L216.9 197.1L218 194.7L218.1 191.3L218.2 189.5ZM291.8 157.8L293.7 158.2L295.6 158.6L298 157.6L300.4 156.6L302.6 156.4L304.9 156.2L307.1 156L308.1 156.6L307.7 159.9L309.2 161.2L310.9 161.7L312.7 162.2L314.4 163.2L316.2 164.2L317.1 162.2L320 161.4L323 162.4L326 163.5L327.6 163.2L329.2 163L329.7 164.6L331.7 166.8L333.7 170.3L335.7 173.8L336.4 176.3L337 178.9L337.6 181.4L339.6 183.1L341.7 184.9L344.4 185.1L347 185.4L349.7 185.7L349.6 187.2L348.2 190.7L346.7 194.2L344.4 196.7L342 199.2L339.6 201.7L338.8 203.8L338 205.8L338.2 208.4L338.4 211L338.5 213.9L338.7 216.8L336.8 218.6L334.9 220.3L333.8 223L332.6 225.6L331.4 227.6L330.2 229.6L328.8 232.5L327.5 235.5L324.6 237.2L321.8 238.9L319.3 239.4L316.9 239.9L315.3 238.4L315.1 235.7L314.8 233.1L312.4 230.8L312.2 228.2L312.1 225.6L310.8 222.4L309.5 219.2L310.4 216.3L311.3 213.4L310.6 209.9L310 206.4L308.4 203.5L306.7 200.6L307 197.9L307.2 195.3L305.5 194.9L303.7 194.4L301.1 193.4L298.5 192.4L296 192.9L293.4 193.4L291.6 193.8L289.8 194.3L287.8 192.8L285.7 191.3L283.7 188.4L280.7 185.2L279.9 182.3L280.6 180.1L281.3 177.9L280.6 175L281.8 172.1L283 169.2L285.4 167.1L287.8 165.1L288.2 161.6L290.9 159.9L291.8 157.8ZM347.8 213.4L348.3 215.4L348.8 217.4L347.7 219.2L346.7 222.1L345.8 225L344.8 227.9L342.4 229.1L341.8 227L341.2 225L341.8 222.1L342.4 219.2L345.3 217.4L346.5 215.4L347.8 213.4ZM289.1 149.4L288.8 151.7L288.5 154.1L289 156.4L291.7 157.3L293.7 157L295.6 156.7L297.5 154.5L298 152.3L300.5 150.6L300.3 149.1L303.1 149.3L304.9 148.5L306.8 148.3L309.2 150.8L310.8 152.9L312.4 155L313.2 153.5L315 152.7L313.5 151.7L311.5 150.6L309.5 148.3L308.8 146.8L310.1 146.5L310.8 146.9L313.3 149.4L315.8 150.8L316.5 153.4L318.4 156.4L319.6 157L320 155.2L320.1 152.1L322 152L322.4 153.5L324.4 156.6L327.3 156.7L329.7 156.8L332.1 157L332.4 159.3L331.7 161.6L331.2 163L332 165.1L333.7 168L335.5 170.9L337.2 174L338.9 177.1L340.6 180.2L341.1 182.4L341.6 184.6L343.4 184.5L345.7 183.1L348 181.6L350.3 180.2L352 179.5L353.7 178.7L355.6 176L357.6 173.2L355.6 171L353.7 168.8L351.6 171.3L348.9 169.7L347.5 168.6L344.9 165.1L347.3 164.9L349.3 166.6L351.2 168.3L354.3 169.4L356.6 169.7L358.9 170.1L361.4 170L363.9 169.9L366.2 172.1L368.5 175L371.1 177.3L372.1 180.8L373 182.7L373.8 184.5L374.7 186.4L375.5 188.4L376.8 190L379.2 187.4L379.2 185.6L379.2 183.7L378.8 181.4L380.9 179.6L382.9 177.9L384.8 176.1L386 173.8L388 173.8L390.1 174.4L391.4 176.3L392.8 178.1L393.5 180.8L396.4 180.2L397.2 182.2L397.9 184.3L398.2 186.9L398.4 189.5L400.4 193L401.7 196.3L403.8 197.9L404.5 197.7L403.7 194.2L402.6 192.2L400.4 189.5L398.9 187.2L399.7 183.7L402.1 185.2L403.5 187.1L404.9 188.9L406.4 187.4L408.9 185.7L408.5 183.5L408.1 181.4L406.2 179.3L404.3 177.3L405 175.3L406.6 174.2L409.2 174.5L411.8 173.2L413.3 172.8L414.8 172.3L416.8 169.7L417.9 166.3L417.5 163.6L415 161L412.9 158.7L414 157.6L415.1 156.5L413 156L410.8 155.4L409.5 154.1L410.6 153L411.5 152L413.5 153.5L416.1 153.4L418.6 155.7L419.9 158.7L422.6 158.5L421.8 156.4L419.7 154.6L419.7 151.7L420.4 149.4L421.7 148.9L423 148.4L423.3 146.6L423.4 144.9L422.8 142.9L422.2 140.9L420.6 138.1L418.5 137.6L416.4 137L413.8 136.2L414.4 134.7L415 133.2L415.6 131.3L417.6 131.3L419.7 131.3L421.7 131.4L423.7 131.6L425.6 131L424 128.7L425.2 128.7L426.5 128.6L428.1 128.8L429.7 128.9L431.4 130.9L433.1 132.9L434.3 135.3L435.3 137.8L436.1 140.4L436.5 139.2L436.9 138.1L435.2 134.8L433.6 132.8L431.9 130.7L433.1 130.1L435.2 130.3L437.3 130.5L437.8 129.2L438.9 128.6L440 127.9L438.6 125.8L435.2 123.5L431.8 121.3L429.7 121.1L427.5 120.9L425.4 120.7L423.3 120.5L421.4 120.5L419.6 120.5L417.7 120.5L415.9 120.5L413.4 120.1L411 119.7L408.5 119.3L406.1 118.9L404 118.6L401.8 118.4L399.7 118.2L397.6 117.9L396.3 118.3L394.9 118.6L393.6 119L392.2 119.3L388.6 117.6L386.7 117.6L384.7 117.5L382.7 117.5L380.8 117.2L378.9 117L377 116.8L374.6 116.5L371 114.9L367.3 113.4L366.2 113.9L365.1 114.3L363.6 114.5L362.2 114.7L360.8 114.9L359.5 115.1L358.1 115.3L356.7 115.9L355.4 116.4L353.9 117L357.6 118.9L355.4 118.6L353.3 118.2L351.1 117.9L348.8 117.7L346.5 117.5L346 119.3L349 121.3L346.6 121L344.3 120.7L341.9 120.5L340 121.1L338 121.8L336.4 122L334.7 122.2L333.1 122.5L330.5 121.8L329 124L328.6 122.8L326.4 122.2L324.2 121.6L322.1 121L320.5 120.6L318.9 120.3L316.9 119.8L315 119.3L312.9 119.9L310.8 120.5L309.6 121.4L308.4 122.3L307.2 124.8L305.8 126.3L303.8 127.4L301.7 128.4L301.6 131L303.3 132.7L304.8 131.8L306.2 131L307.3 132.1L308.5 135.3L309.8 134.6L311.4 133.7L313.1 130.7L311.5 127.9L312.7 126.7L313.9 125.5L315.6 125.2L317.2 125L316 126.4L314.7 127.9L315.1 130L316.4 130.5L318.3 130.4L320.2 130.4L322.1 130.3L320.4 130.6L318.6 131L316.9 131.4L315.6 133.5L315.5 135.9L313.6 136.3L311.7 136.6L309.8 137L308.4 137L307 137L305.9 135.9L304.6 133.7L305 137L303.4 137.8L301.5 139.2L299.1 140.4L297.6 141.2L296.2 142L294.7 142.6L293.3 143.2L294.7 144.6L296.1 146L296 148.9L294 148.8L292.1 148.7L290.1 148.6L289.1 149.4ZM292.3 141.5L294.5 141L296.7 140.6L298.8 140.1L299 138.5L297.7 137.6L296.2 135.4L295.8 133.7L294.3 133L295 132L293.3 132L292.3 133.5L292.8 134.8L293.4 136.1L294.9 137L293.5 137.8L293.7 138.9L292.9 139.6L294.6 139.9L292.3 141.5ZM292.2 139L290.6 139.4L288.9 139.8L288.8 137.6L290.2 135.7L292.4 135.7L292.2 139ZM278.9 124.8L280.6 123.9L282.4 123.8L284.2 123.8L286 123.8L286.9 125.3L285.1 126.1L283.2 126.9L281.5 126.7L279.7 126.5L278.9 124.8ZM249.5 112.8L251.6 112.2L253.7 111.5L255.7 110.9L258.1 110.4L260.4 109.9L262.4 109.8L264.3 109.7L266.2 109.6L268.1 109.5L270 109.4L271.9 109.3L273.8 109.2L275.7 109.1L277.6 108.9L279.4 108.8L280.8 109.1L282.3 109.4L283.7 109.6L285.1 109.9L286 111.3L284.8 113.9L283.3 115.6L281.9 117.5L281.4 119.8L279.7 120.9L277.9 122L276.2 122.1L274.4 122.2L272.6 122.3L270.5 123.3L268.4 124.3L266.3 125.3L264.3 127.9L262.2 130.5L260.4 129.9L258.6 129.2L257.3 126.3L256.4 123.8L256.7 122L256.9 120.3L258.2 117.9L257.6 116.4L257.2 114.9L255.2 114.8L253.2 114.8L251.2 114.7L250.3 113.8L249.5 112.8ZM250.2 123.3L247.5 125.4L244.8 127.7L243.2 127.1L241.7 126.6L240.1 126L238.1 126.1L236.1 126.1L238.7 124.4L241.3 122.8L239.7 122.1L238.2 121.4L236.7 120.7L235.2 120.1L233.7 119.5L232.3 118.9L235.4 117L237.3 116.9L239.3 116.9L241.2 116.8L242.5 117.4L243.8 118.1L245.1 118.7L246.5 119.3L247.6 120.6L248.9 121.9L250.2 123.3ZM209.4 121.3L211.4 121.4L213.3 121.6L215.3 121.8L217.3 121.9L219.2 122.1L221.2 122.3L223.2 120L225.3 117.9L223.6 117.8L221.9 117.6L220.2 117.5L218.5 117.3L216.9 117.2L214.7 117.8L212.6 118.4L209.4 121.3ZM243.5 114.3L241.5 114.2L239.6 114.1L237.7 114L235.7 113.9L233.8 113.9L236.8 112.1L239.7 110.6L241.7 110.4L243.6 110.3L245.5 110.1L247.4 109.9L249.3 109.7L251.2 109.6L253.1 109.4L254.9 109.2L256.5 109.4L258.2 109.7L259.8 109.9L257.5 110.4L255.2 110.8L252.8 111.3L250.6 112L248.2 112.8L245.9 113.5L243.5 114.3ZM207.4 118.5L209.3 118.7L211.2 118.9L213.2 119.2L213.8 117.7L214.4 116.2L212.5 116.1L210.5 116.1L207.4 118.5ZM241.9 116L239.8 115.9L237.8 115.9L235.7 115.8L233.7 115.8L233.3 114.3L235.1 114.3L236.8 114.3L238.6 114.3L240.3 114.3L242.1 114.3L241.9 116ZM224.9 115.6L223.2 115.5L221.5 115.4L219.9 115.3L218.2 115.2L216.5 115.2L218.8 114.5L221.1 113.9L222.6 114L224.2 114.1L225.7 114.2L227.2 114.3L224.9 115.6ZM304.7 112.6L306.8 113.4L309 114.3L310.6 113.9L312.1 113.4L313.7 113L315.2 112.6L313.3 111.8L311.5 111.1L309.6 111.1L307.7 111.2L305.8 111.3L304.7 112.6ZM335.3 119.1L337.6 119.3L339.9 119.6L340.2 117.6L340.4 115.6L341.8 114.8L343.2 114L341.7 114.2L340.2 114.5L338.7 114.7L337.1 114.9L336.3 116.9L335.3 119.1ZM359.1 112.1L360.9 112.3L362.7 112.4L364.4 112.5L366.2 112.6L363.2 111.5L360.3 110.6L359.7 111.3L359.1 112.1ZM424.8 160L426.9 160.2L428.9 160.4L431 159.4L432.9 158.5L432.1 155L431.4 153.2L430.5 151.4L429.7 152.3L430.8 155.2L428.5 156.4L427.3 157.2L426 158.1L424.8 160ZM424 160.8L426.5 162.8L425.7 160.1L424 160.8ZM428.9 151.2L428.2 149L427.5 146.8L430.1 147.9L432.7 149.1L431.4 150.6L428.9 151.2ZM427.4 146L426.3 142.6L423.4 139.7L420.5 136.8L421.8 138.6L423.1 140.4L425.3 143.2L427.4 146ZM418.5 173.2L419.4 170.3L418.4 170.3L417.9 172.1L418.5 173.2ZM407.4 177.9L409.3 178.1L409.5 176.1L408 176.1L407.4 177.9ZM419.4 177.9L421.2 177.9L422.6 181.1L423.9 184.3L420.6 182.5L419.3 180.8L419.4 177.9ZM422.5 191.3L424.8 191.3L427.1 191.3L426.4 188L423.4 189.5L422.5 191.3ZM409.4 197.7L411.4 196.5L413.5 195L415.5 193.6L417.9 191.3L419.6 193.6L419.1 195.9L418.7 198.2L417.6 201L416.5 203.8L414 203.4L411.4 202.9L409.9 200.6L409.4 197.7ZM395.2 193L398.1 194.7L401.1 197.7L404.1 200.6L406.3 203.2L405.7 206.4L403.9 205.2L402.2 204.1L400.4 201.7L398.7 199.4L397 196.2L395.2 193ZM405.3 207.3L406.2 206.3L409 207L411.9 207.7L414.7 208.4L414.7 209.5L412 209L409.3 208.5L406.6 208L405.3 207.3ZM420 205.8L420.4 202.3L420.7 198.8L422.8 198.5L424.8 198.2L421.8 200.6L423.7 204.1L421.2 202.9L420 205.8ZM432 201.1L433.8 200.9L435.6 200.6L437.8 201.2L440 201.8L442.2 202.4L444.7 204.1L447.2 205.8L449 209.3L451.3 211.6L449.6 211.3L447.8 211L446.1 210.4L444.3 209.9L441.7 210.1L438.8 208.9L438.7 207.1L438.5 205.2L436.3 204.6L434 204.1L432 201.1ZM411.6 225L411.4 227.6L411 230.2L410.6 233.1L410 236L409.3 238.9L411.8 240.1L414.4 239.5L417.1 238.8L420.7 237L423.4 236.5L426 236L428.2 237.8L428.7 240.1L430.8 240.7L431.1 243L432.1 243.8L434.9 243.9L436.8 244.7L439 243.9L441.1 243L443.1 240.7L444.8 238.4L447.8 235.5L449.7 232L450.4 228.5L448.9 225.6L447.9 224.4L446.5 222.8L445.1 221.3L445.2 219.1L445.3 216.8L443.6 215.7L443.3 213.8L443.1 211.8L441.6 215.1L441.3 217.1L440.9 219.2L439.2 220.1L437.7 218.8L436.2 217.4L436.7 213.9L434.7 213.2L432.8 212.5L430 214.5L428.7 216.8L426.3 215.3L423.3 218.6L420.9 220.7L417.6 222.7L414.4 223.6L411.6 225ZM434.2 246.8L436.9 246.9L435.3 249.4L433 249.9L434.2 246.8ZM465 239.5L465.7 242.4L467 242.8L468.3 243.2L465.6 245.1L461.8 247.6L462.6 245.3L465 242.4L465 239.5ZM460.5 246.5L461.1 247.6L457.8 250.3L454.4 252.2L451.5 253.5L449.8 252.8L453.5 250.5L457.9 248.2L460.5 246.5ZM379.3 191.8L379.3 189.9L379.3 188L381.4 190.7L380.5 192.4L379.3 191.8ZM212.1 173.9L215.3 172.4L217.7 173.1L220.1 173.8L222.7 175.9L221 176.1L219.3 176.4L216.6 174L214.4 174L212.1 173.9ZM222.2 178L224 176.3L226.2 177L228.3 177.8L226.7 178.3L225.1 178.8L222.2 178ZM323.8 151.5L326.1 151.1L328.4 150.6L331.3 151.3L333.9 151.2L336.5 151.2L336.4 150L334.2 148.6L332 147.1L329.7 146.8L328.4 147.7L325.3 145.4L324 147.4L323.9 149.4L323.8 151.5ZM340.9 147.7L342.6 145.4L344.4 146L346.1 146.6L345.3 148.9L347.1 150.6L348.3 152.3L348.3 154.2L348.3 156L345.4 155.9L344.2 154.6L344.2 152.3L341.7 149.4L340.9 147.7ZM224.4 118.9L226.2 118.9L228 118.9L230 116.7L228.1 116.8L226.2 117L224.4 118.9ZM228.9 117.9L231 117.9L233.2 117.9L234.4 116.5L232.7 116.5L230.9 116.5L228.9 117.9ZM234.8 113L236.8 113L238.8 113L240.8 113L242.9 110.6L241 110.7L239.2 110.8L237.3 110.9L234.8 113ZM214.4 114.7L215.9 114.8L217.4 114.8L219 114.9L219.5 113.6L217.6 113.7L215.7 113.9L214.4 114.7ZM228.6 126.8L230.3 127L232 127.2L233.8 127.4L235.1 125.3L233.1 124.8L231.1 124.3L228.6 126.8ZM223.2 121.8L224.7 121.8L226.2 121.8L226.5 120.5L224 120.8L223.2 121.8ZM228.2 115.2L229.5 115.2L230.7 115.3L231.3 114.3L229.3 114.3L228.2 115.2ZM201 124.3L202.6 124.4L204.3 124.6L205.9 124.8L206.6 123.3L205 123.4L203.4 123.5L201 124.3ZM202.5 129.4L204.9 129.1L207.4 128.8L209.8 128.4L208 127.7L206 128.2L203.9 128.7L202.5 129.4ZM209.6 140.9L211.7 140.4L213.6 137L211.6 137.6L209.6 140.9ZM213.7 145.2L216.1 144L218.4 142.8L220.6 144L220.4 145.4L218.9 145.4L217.3 145.4L215.5 145.3L213.7 145.2ZM215.1 150.6L215.9 150.9L217.5 148.8L219 146.6L217.8 146.2L216.4 148.4L215.1 150.6ZM220.1 146.2L222.7 146.6L221.5 149.2L220.7 149.4L220.1 146.2ZM219.4 150.9L221.6 150.3L223.9 149.7L222.3 150L219.4 150.9ZM223.3 149.1L225 149L226.8 148.9L226.8 148.1L223.8 148.6L223.3 149.1ZM243.8 144.2L245.6 144.5L247.4 144.9L249.2 145.2L250.1 143.2L249.3 141.4L248.6 139.7L246.6 141.1L244.6 142.6L243.8 144.2ZM183.8 140.6L184.9 142L186.2 143.4L185.3 142.6L184 141.2L183.8 140.6ZM392.2 115.6L394.1 115.6L395.9 115.6L397.8 115.6L399.1 115.4L400.4 115.2L398.4 115L396.5 114.8L394.5 114.7L392.5 114.5L392.2 115.6ZM328.1 111.3L330 111.3L332 111.3L333.9 111.3L335.8 111.3L337.1 110.6L335.4 110.6L333.8 110.6L332.2 110.6L330.5 110.6L328.9 110.6L328.1 111.3ZM229.5 178.5L231.1 178.5L231.2 177.9L229.5 177.9L229.5 178.5ZM218.3 178.1L220.4 178.6L220.1 177.9L218.3 178.1ZM139.9 177.3L141 176.7L140.4 175.9L139.9 177.3ZM243.3 259L244.8 258.9L246.3 258.8L246.2 259.8L244 259.8L243.3 259ZM359.4 256.2L360.7 256.4L360 257.1L359.4 256.2ZM462.9 223L465.3 225.3L464.7 225.6L462.7 223.6L462.9 223ZM477.3 219.8L478.4 219.5L477.9 220.6L477.3 219.8ZM424.3 210.2L427.5 209.1L426.9 209.9L424.3 211L424.3 210.2ZM428.4 197.7L429.5 198.8L429 200.3L428.4 197.7ZM428.9 202.9L431.7 203.1L430.9 203.7L428.9 203.6L428.9 202.9ZM456.4 206.4L458.3 208.1L460.7 209.9L463.1 211.6L461.2 209.9L458.8 208.1L456.4 206.4ZM449.8 205.8L451.6 204.9L453.5 204.1L452.9 205.8L451.2 206.6L449.8 205.8ZM320.2 158.3L322.9 158.5L321.7 158.7L320.2 158.3ZM309.3 155.1L310.9 155L312.4 154.9L311.9 156.7L309.3 155.1ZM305.2 151.7L306.7 151.7L306.6 154.1L305.5 154.1L305.2 151.7ZM305.5 149.6L306.3 149.4L306.3 151.3L305.6 150.6ZM328.8 158.7L330.8 158L330 159.2L328.8 158.7ZM330.2 200.6L332.4 200L332.4 202.3L330.3 202.7L330.2 200.6ZM327.8 203.5L328.3 203.2L328.8 206.3L329.2 209.3L328.7 209.3L328.3 206.4L327.8 203.5ZM332.3 210.4L332.9 210.7L333.2 213.2L333.4 215.7L332.6 215.7L332.5 213.1L332.3 210.4ZM389 139.6L390.2 138.7L390.6 137L391 135.4L390.3 135L389.9 136.9L389.3 138.7L389 139.6ZM351 146L353.6 145.4L354 148.3L351.7 148.3L351 146ZM365.2 146L367.4 145.7L369.5 145.4L369.5 146.6L367.6 146.9L365.6 147.1L365.2 146ZM178.8 285.8L180.4 285.7L182 285.6L183.6 285.5L185.2 285.4L186.8 285.3L188.4 285.2L190 285L191.6 284.9L192.8 284.7L194.1 284.4L195.4 284.1L196.7 283.9L198 283.6L199.3 283.4L200.7 283.2L202.5 283.1L204.3 283L206.1 282.8L207.9 282.7L209.7 282.5L211.6 282.4L213.4 282.3L215.2 282.1L217.1 282L219 281.9L220.8 281.7L222.7 281.6L224.6 281.5L226.5 281.3L228.5 281.3L230.5 281.3L232.6 281.3L234.6 281.3L236.6 281.3L238.7 281.3L240.7 281.3L241.4 279.9L242.1 278.5L243.3 277.7L244.6 276.9L245.9 276L247.3 274.5L248.9 273L250.6 272.4L252.3 271.9L250.9 274L251.3 276.3L251.7 278.5L253.6 280.4L255.4 282.3L257.7 283.2L260.1 284.1L262.3 284.9L264.5 285.8L266.5 285.8L268.5 285.8L270.5 285.8L272.4 285.8L274.4 285.8L275.8 285.3L277.3 284.7L278.8 284.2L280.3 283.6L281.9 283L283.5 282.3L285.1 281.6L286.8 280.9L288.5 280.5L290.3 280.2L292.1 279.8L293.9 279.5L296 279.3L298.2 279.1L300.4 278.9L302.7 278.7L304.9 278.5L306.7 278.5L308.6 278.5L310.4 278.5L312.3 278.5L314.1 278.4L316 278.3L317.9 278.1L319.8 278L321.7 277.8L323.6 277.5L325.6 277.3L327.5 277L329.6 276.5L331.7 276L333.8 275.5L335.9 275L337.7 275.3L339.5 275.5L341.3 275.8L343.1 276L344.9 276.1L346.7 276.3L348.5 276.4L350.4 276.5L351.8 277.3L353.2 278L355.7 277L358.2 276L360.3 275.8L362.4 275.5L364.5 275.3L366.6 275L368.6 274.9L370.6 274.8L372.7 274.7L374.7 274.5L376.6 274.6L378.5 274.6L380.3 274.7L382.2 274.7L384 274.9L385.8 275L387.6 275.2L389.3 275.3L391.4 275.2L393.5 275L395.5 274.9L397.6 274.7L399.4 274.9L401.2 275L403 275.1L404.7 275.2L406.1 275.7L407.5 276.1L408.8 276.6L410.1 277L411.5 277.4L412.9 277.8L414.3 278.1L415.6 278.5L416.9 278.9L418.1 279.2L419.4 279.6L420.6 279.9L414.9 282.5L408.8 284.9L410.3 285.1L411.7 285.3L413.2 285.5L414.7 285.6L416.2 285.8M219.9 168.6L220.8 168.6L219.9 171.5L219.5 170.3M264.6 261.8L266.5 262.3M466.9 216.6L467.8 219.2L468.3 221.5M352 184.7L353.1 184.7M391.9 183.7L392.2 186.6M434.7 146L435.7 144.9M156.3 136.5L152.9 137.2L149.3 138.2L145.8 139L142.7 139.5L140.8 139.6L138.9 139.8" fill="none" stroke="#203490" stroke-width="0.95" stroke-linejoin="round"/>
</g></g>
<path d="M395.9 105.6L399.6 106.7L403.3 107.8L407.8 109.6L412.4 111.3L417.2 113.4L422 115.6L426.2 117.9L430.4 120.3L434.2 122.8L438 125.3L441.6 127.9L445.2 130.5L448.5 133.2L451.9 135.9L454.9 138.7L458 141.5L460.6 144.3L463.2 147.1L465.6 150L467.9 152.9L469.9 155.8L471.8 158.7L473.4 161.6L475 164.5L476.2 167.4L477.4 170.3L478.3 173.2L479.1 176.1L479.8 179L480.6 182L481.1 184.9L481.5 187.8L481.8 190.7L482.1 193.6L482.3 196.5L482.4 199.4L482.3 202.3L482.1 205.2L481.8 208.1L481.5 211L481.1 213.9L480.6 216.8L479.8 219.8L479.1 222.7L478.3 225.6L477.4 228.5L476.2 231.4L475 234.3L473.4 237.2L471.8 240.1L469.9 243L467.9 245.9L465.6 248.8L463.2 251.7L460.6 254.5L458 257.3L454.9 260.1L451.9 262.9L448.5 265.6L445.2 268.3L441.6 270.9L438 273.5L434.2 276L430.4 278.5L426.2 280.9L422 283.2L417.2 285.4L412.4 287.5L407.8 289.2L403.3 291L399.6 292.1L395.9 293.2L199.1 293.2L195.4 292.1L191.7 291L187.2 289.2L182.6 287.5L177.8 285.4L173 283.2L168.8 280.9L164.6 278.5L160.8 276L157 273.5L153.4 270.9L149.8 268.3L146.5 265.6L143.1 262.9L140.1 260.1L137 257.3L134.4 254.5L131.8 251.7L129.4 248.8L127.1 245.9L125.1 243L123.2 240.1L121.6 237.2L120 234.3L118.8 231.4L117.6 228.5L116.7 225.6L115.9 222.7L115.2 219.8L114.4 216.8L113.9 213.9L113.5 211L113.2 208.1L112.9 205.2L112.7 202.3L112.6 199.4L112.7 196.5L112.9 193.6L113.2 190.7L113.5 187.8L113.9 184.9L114.4 182L115.2 179L115.9 176.1L116.7 173.2L117.6 170.3L118.8 167.4L120 164.5L121.6 161.6L123.2 158.7L125.1 155.8L127.1 152.9L129.4 150L131.8 147.1L134.4 144.3L137 141.5L140.1 138.7L143.1 135.9L146.5 133.2L149.8 130.5L153.4 127.9L157 125.3L160.8 122.8L164.6 120.3L168.8 117.9L173 115.6L177.8 113.4L182.6 111.3L187.2 109.6L191.7 107.8L195.4 106.7L199.1 105.6Z" fill="none" stroke="#000" stroke-width="1.6"/>
<g font-family="Liberation Sans, sans-serif" font-size="9.5" fill="#111">
<text transform="translate(292.4 83.9) scale(1.0 1)" font-size="9.6" stroke="#111" stroke-width="0.08">P</text><text transform="translate(299.1 89.4) scale(0.74 1)" font-size="8.3">1</text>
<circle cx="293.3" cy="309.3" r="0.95" fill="#777"/><text transform="translate(294.6 318.3) scale(1.05 1)" font-size="9.6" stroke="#111" stroke-width="0.3">C</text>
</g>
<g font-family="Liberation Sans, sans-serif" font-size="9.5" fill="#151515">
<rect x="510.2" y="16.00" width="37.5" height="23.27" fill="#a00000"/><rect x="510.2" y="38.97" width="37.5" height="23.27" fill="#df0000"/><rect x="510.2" y="61.94" width="37.5" height="23.27" fill="#ff2000"/><rect x="510.2" y="84.91" width="37.5" height="23.27" fill="#ff6000"/><rect x="510.2" y="107.88" width="37.5" height="23.27" fill="#ffa000"/><rect x="510.2" y="130.84" width="37.5" height="23.27" fill="#ffdf00"/><rect x="510.2" y="153.81" width="37.5" height="23.27" fill="#dfff20"/><rect x="510.2" y="176.78" width="37.5" height="23.27" fill="#a0ff60"/><rect x="510.2" y="199.75" width="37.5" height="23.27" fill="#60ffa0"/><rect x="510.2" y="222.72" width="37.5" height="23.27" fill="#20ffdf"/><rect x="510.2" y="245.69" width="37.5" height="23.27" fill="#00dfff"/><rect x="510.2" y="268.66" width="37.5" height="23.27" fill="#00a0ff"/><rect x="510.2" y="291.62" width="37.5" height="23.27" fill="#0060ff"/><rect x="510.2" y="314.59" width="37.5" height="23.27" fill="#0020ff"/><rect x="510.2" y="337.56" width="37.5" height="23.27" fill="#0000df"/><rect x="510.2" y="360.53" width="37.5" height="23.27" fill="#0000a0"/>
<rect x="510.2" y="16.0" width="37.5" height="367.5" fill="none" stroke="#222" stroke-width="0.5"/>
<path d="M510.2 16.00h3.5M547.7 16.00h-3.5" stroke="#000" stroke-width="0.8"/><text transform="translate(550.6 19.50) scale(0.94 1)" stroke="#151515" stroke-width="0.25">1.5</text><path d="M510.2 77.25h3.5M547.7 77.25h-3.5" stroke="#000" stroke-width="0.8"/><text transform="translate(550.6 80.75) scale(0.94 1)" stroke="#151515" stroke-width="0.25">1</text><path d="M510.2 138.50h3.5M547.7 138.50h-3.5" stroke="#000" stroke-width="0.8"/><text transform="translate(550.6 142.00) scale(0.94 1)" stroke="#151515" stroke-width="0.25">0.5</text><path d="M510.2 199.75h3.5M547.7 199.75h-3.5" stroke="#000" stroke-width="0.8"/><text transform="translate(550.6 203.25) scale(0.94 1)" stroke="#151515" stroke-width="0.25">0</text><path d="M510.2 261.00h3.5M547.7 261.00h-3.5" stroke="#000" stroke-width="0.8"/><text transform="translate(550.6 264.50) scale(0.94 1)" stroke="#151515" stroke-width="0.25">-0.5</text><path d="M510.2 322.25h3.5M547.7 322.25h-3.5" stroke="#000" stroke-width="0.8"/><text transform="translate(550.6 325.75) scale(0.94 1)" stroke="#151515" stroke-width="0.25">-1</text><path d="M510.2 383.50h3.5M547.7 383.50h-3.5" stroke="#000" stroke-width="0.8"/><text transform="translate(550.6 387.00) scale(0.94 1)" stroke="#151515" stroke-width="0.25">-1.5</text>
</g>
</svg>
<div class="cap"><p class="j"><b>Figure 5.</b>&nbsp;&nbsp; The global surface pattern of temperature that best distinguishes the solar max group from the solar min group. Shown in color is the temperature difference in K between ±one standard deviation from the mean. The actual peak-to-peak difference between the solar max and solar min is larger but is not as robust as the standard deviation difference. A measure of the peak-to-peak difference can be obtained by multiplying the values shown by a factor of <i>π</i>/2. Monte Carlo test shows that this global pattern is</p><p class="l">statistically significant above the 95% confidence level.</p></div>
</body></html>
